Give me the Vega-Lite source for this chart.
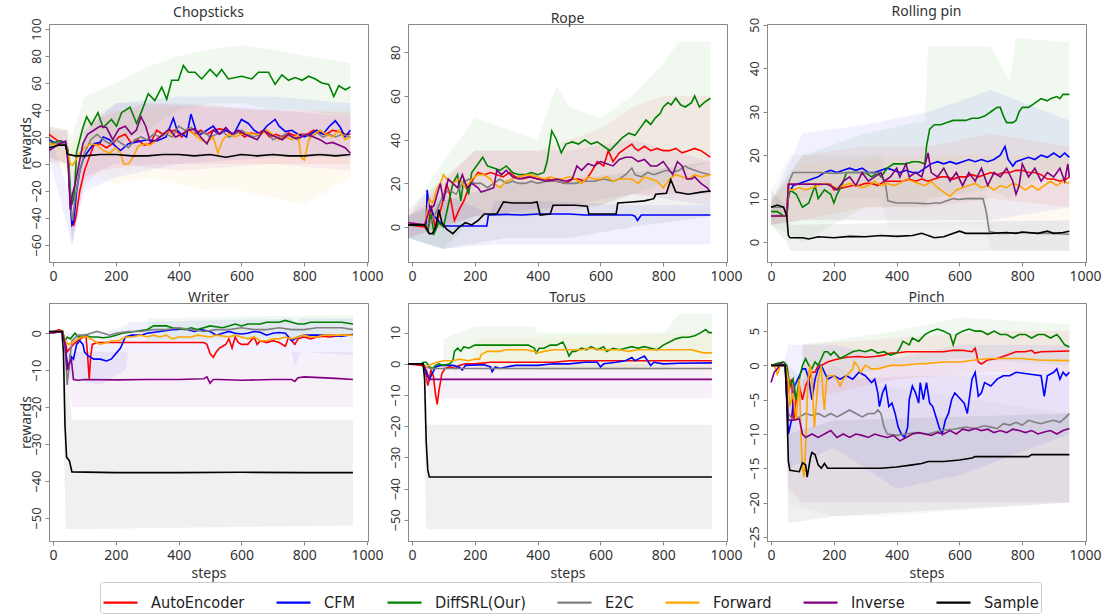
{
"$schema":"https://vega.github.io/schema/vega-lite/v6.json",
"padding":{"left":18,"top":4,"right":5,"bottom":0},
"config":{
 "font":"Noto Sans",
 "view":{"stroke":"#888","strokeWidth":1},
 "axis":{"grid":false,"domainColor":"#888","tickColor":"#888","tickSize":4,"labelColor":"#333","labelFontSize":14,"labelFont":"Noto Sans","titleFont":"Noto Sans","titleFontSize":14,"titleFontWeight":"normal","titleColor":"#333","labelPadding":2,"titlePadding":0,"labelOverlap":false,"labelFlush":false},
 "axisX":{"labelPadding":3,"titlePadding":4},
 "axisY":{"labelFontSize":13,"titlePadding":-3,"labelOverlap":false},
 "title":{"fontSize":14,"fontWeight":"normal","color":"#333","offset":-2,"font":"Noto Sans","anchor":"middle"},
 "legend":{"title":null,"symbolType":"stroke","symbolStrokeWidth":2.2,"symbolSize":1156,"labelFontSize":16.2,"labelFont":"DejaVu Sans Condensed","labelColor":"#222","columnPadding":27,"strokeColor":"#ccc","padding":2,"cornerRadius":3,"labelOffset":12,"labelLimit":300}
},
"datasets":{
"ch":[
{"s":"AutoEncoder","x":-13,"y":22},{"s":"AutoEncoder","x":10,"y":18},{"s":"AutoEncoder","x":25,"y":16},{"s":"AutoEncoder","x":40,"y":15},{"s":"AutoEncoder","x":48,"y":5},{"s":"AutoEncoder","x":55,"y":-30},{"s":"AutoEncoder","x":65,"y":-46},{"s":"AutoEncoder","x":72,"y":-40},{"s":"AutoEncoder","x":85,"y":-20},{"s":"AutoEncoder","x":100,"y":-5},{"s":"AutoEncoder","x":115,"y":5},{"s":"AutoEncoder","x":130,"y":14},{"s":"AutoEncoder","x":150,"y":15},{"s":"AutoEncoder","x":170,"y":12},{"s":"AutoEncoder","x":190,"y":15},{"s":"AutoEncoder","x":210,"y":20},{"s":"AutoEncoder","x":230,"y":22},{"s":"AutoEncoder","x":250,"y":15},{"s":"AutoEncoder","x":270,"y":18},{"s":"AutoEncoder","x":290,"y":14},{"s":"AutoEncoder","x":310,"y":15},{"s":"AutoEncoder","x":330,"y":25},{"s":"AutoEncoder","x":350,"y":22},{"s":"AutoEncoder","x":370,"y":24},{"s":"AutoEncoder","x":390,"y":25},{"s":"AutoEncoder","x":410,"y":20},{"s":"AutoEncoder","x":430,"y":26},{"s":"AutoEncoder","x":450,"y":22},{"s":"AutoEncoder","x":470,"y":25},{"s":"AutoEncoder","x":490,"y":22},{"s":"AutoEncoder","x":510,"y":25},{"s":"AutoEncoder","x":530,"y":26},{"s":"AutoEncoder","x":550,"y":25},{"s":"AutoEncoder","x":570,"y":22},{"s":"AutoEncoder","x":590,"y":24},{"s":"AutoEncoder","x":610,"y":20},{"s":"AutoEncoder","x":630,"y":23},{"s":"AutoEncoder","x":650,"y":22},{"s":"AutoEncoder","x":670,"y":25},{"s":"AutoEncoder","x":690,"y":20},{"s":"AutoEncoder","x":710,"y":22},{"s":"AutoEncoder","x":730,"y":20},{"s":"AutoEncoder","x":750,"y":23},{"s":"AutoEncoder","x":770,"y":21},{"s":"AutoEncoder","x":790,"y":22},{"s":"AutoEncoder","x":810,"y":22},{"s":"AutoEncoder","x":830,"y":25},{"s":"AutoEncoder","x":850,"y":23},{"s":"AutoEncoder","x":870,"y":22},{"s":"AutoEncoder","x":890,"y":25},{"s":"AutoEncoder","x":910,"y":24},{"s":"AutoEncoder","x":930,"y":22},{"s":"AutoEncoder","x":947,"y":22},
{"s":"CFM","x":-13,"y":18},{"s":"CFM","x":10,"y":15},{"s":"CFM","x":25,"y":17},{"s":"CFM","x":40,"y":15},{"s":"CFM","x":48,"y":5},{"s":"CFM","x":55,"y":-30},{"s":"CFM","x":60,"y":-45},{"s":"CFM","x":66,"y":-42},{"s":"CFM","x":75,"y":-20},{"s":"CFM","x":85,"y":-5},{"s":"CFM","x":95,"y":3},{"s":"CFM","x":107,"y":8},{"s":"CFM","x":130,"y":15},{"s":"CFM","x":150,"y":16},{"s":"CFM","x":160,"y":20},{"s":"CFM","x":180,"y":18},{"s":"CFM","x":195,"y":14},{"s":"CFM","x":215,"y":10},{"s":"CFM","x":240,"y":15},{"s":"CFM","x":260,"y":16},{"s":"CFM","x":280,"y":17},{"s":"CFM","x":300,"y":18},{"s":"CFM","x":330,"y":17},{"s":"CFM","x":360,"y":20},{"s":"CFM","x":383,"y":34},{"s":"CFM","x":395,"y":25},{"s":"CFM","x":410,"y":22},{"s":"CFM","x":425,"y":20},{"s":"CFM","x":439,"y":37},{"s":"CFM","x":455,"y":25},{"s":"CFM","x":470,"y":22},{"s":"CFM","x":490,"y":25},{"s":"CFM","x":510,"y":28},{"s":"CFM","x":530,"y":22},{"s":"CFM","x":550,"y":25},{"s":"CFM","x":575,"y":22},{"s":"CFM","x":600,"y":33},{"s":"CFM","x":622,"y":30},{"s":"CFM","x":640,"y":25},{"s":"CFM","x":660,"y":22},{"s":"CFM","x":680,"y":28},{"s":"CFM","x":707,"y":33},{"s":"CFM","x":720,"y":28},{"s":"CFM","x":740,"y":24},{"s":"CFM","x":760,"y":25},{"s":"CFM","x":780,"y":22},{"s":"CFM","x":800,"y":20},{"s":"CFM","x":820,"y":22},{"s":"CFM","x":840,"y":25},{"s":"CFM","x":860,"y":22},{"s":"CFM","x":880,"y":28},{"s":"CFM","x":899,"y":32},{"s":"CFM","x":915,"y":27},{"s":"CFM","x":930,"y":20},{"s":"CFM","x":947,"y":25},
{"s":"DiffSRL(Our)","x":-13,"y":15},{"s":"DiffSRL(Our)","x":20,"y":17},{"s":"DiffSRL(Our)","x":40,"y":15},{"s":"DiffSRL(Our)","x":48,"y":10},{"s":"DiffSRL(Our)","x":55,"y":-20},{"s":"DiffSRL(Our)","x":60,"y":-30},{"s":"DiffSRL(Our)","x":66,"y":-25},{"s":"DiffSRL(Our)","x":70,"y":-13},{"s":"DiffSRL(Our)","x":75,"y":9},{"s":"DiffSRL(Our)","x":95,"y":27},{"s":"DiffSRL(Our)","x":107,"y":35},{"s":"DiffSRL(Our)","x":122,"y":29},{"s":"DiffSRL(Our)","x":143,"y":38},{"s":"DiffSRL(Our)","x":159,"y":27},{"s":"DiffSRL(Our)","x":186,"y":33},{"s":"DiffSRL(Our)","x":202,"y":28},{"s":"DiffSRL(Our)","x":218,"y":38},{"s":"DiffSRL(Our)","x":245,"y":42},{"s":"DiffSRL(Our)","x":266,"y":30},{"s":"DiffSRL(Our)","x":282,"y":39},{"s":"DiffSRL(Our)","x":303,"y":52},{"s":"DiffSRL(Our)","x":324,"y":47},{"s":"DiffSRL(Our)","x":346,"y":57},{"s":"DiffSRL(Our)","x":362,"y":48},{"s":"DiffSRL(Our)","x":378,"y":62},{"s":"DiffSRL(Our)","x":399,"y":62},{"s":"DiffSRL(Our)","x":415,"y":73},{"s":"DiffSRL(Our)","x":431,"y":68},{"s":"DiffSRL(Our)","x":452,"y":68},{"s":"DiffSRL(Our)","x":473,"y":63},{"s":"DiffSRL(Our)","x":500,"y":70},{"s":"DiffSRL(Our)","x":521,"y":65},{"s":"DiffSRL(Our)","x":537,"y":70},{"s":"DiffSRL(Our)","x":558,"y":63},{"s":"DiffSRL(Our)","x":601,"y":65},{"s":"DiffSRL(Our)","x":633,"y":63},{"s":"DiffSRL(Our)","x":654,"y":68},{"s":"DiffSRL(Our)","x":686,"y":68},{"s":"DiffSRL(Our)","x":707,"y":59},{"s":"DiffSRL(Our)","x":729,"y":66},{"s":"DiffSRL(Our)","x":750,"y":62},{"s":"DiffSRL(Our)","x":771,"y":64},{"s":"DiffSRL(Our)","x":793,"y":62},{"s":"DiffSRL(Our)","x":814,"y":65},{"s":"DiffSRL(Our)","x":835,"y":63},{"s":"DiffSRL(Our)","x":856,"y":60},{"s":"DiffSRL(Our)","x":878,"y":59},{"s":"DiffSRL(Our)","x":894,"y":50},{"s":"DiffSRL(Our)","x":910,"y":58},{"s":"DiffSRL(Our)","x":931,"y":55},{"s":"DiffSRL(Our)","x":947,"y":57},
{"s":"E2C","x":-13,"y":14},{"s":"E2C","x":20,"y":16},{"s":"E2C","x":40,"y":15},{"s":"E2C","x":48,"y":5},{"s":"E2C","x":55,"y":-30},{"s":"E2C","x":62,"y":-42},{"s":"E2C","x":70,"y":-25},{"s":"E2C","x":85,"y":-5},{"s":"E2C","x":100,"y":8},{"s":"E2C","x":120,"y":18},{"s":"E2C","x":140,"y":22},{"s":"E2C","x":160,"y":18},{"s":"E2C","x":180,"y":15},{"s":"E2C","x":200,"y":18},{"s":"E2C","x":220,"y":15},{"s":"E2C","x":240,"y":12},{"s":"E2C","x":260,"y":18},{"s":"E2C","x":280,"y":20},{"s":"E2C","x":300,"y":18},{"s":"E2C","x":320,"y":22},{"s":"E2C","x":340,"y":20},{"s":"E2C","x":360,"y":22},{"s":"E2C","x":380,"y":20},{"s":"E2C","x":400,"y":28},{"s":"E2C","x":420,"y":25},{"s":"E2C","x":440,"y":27},{"s":"E2C","x":460,"y":22},{"s":"E2C","x":480,"y":24},{"s":"E2C","x":500,"y":20},{"s":"E2C","x":520,"y":22},{"s":"E2C","x":540,"y":24},{"s":"E2C","x":560,"y":20},{"s":"E2C","x":580,"y":22},{"s":"E2C","x":600,"y":25},{"s":"E2C","x":620,"y":22},{"s":"E2C","x":640,"y":20},{"s":"E2C","x":660,"y":22},{"s":"E2C","x":680,"y":25},{"s":"E2C","x":700,"y":18},{"s":"E2C","x":720,"y":20},{"s":"E2C","x":740,"y":22},{"s":"E2C","x":760,"y":20},{"s":"E2C","x":780,"y":18},{"s":"E2C","x":800,"y":22},{"s":"E2C","x":820,"y":20},{"s":"E2C","x":840,"y":23},{"s":"E2C","x":860,"y":20},{"s":"E2C","x":880,"y":22},{"s":"E2C","x":900,"y":20},{"s":"E2C","x":920,"y":22},{"s":"E2C","x":947,"y":20},
{"s":"Forward","x":-13,"y":15},{"s":"Forward","x":20,"y":14},{"s":"Forward","x":40,"y":14},{"s":"Forward","x":48,"y":8},{"s":"Forward","x":55,"y":0},{"s":"Forward","x":62,"y":-1},{"s":"Forward","x":70,"y":2},{"s":"Forward","x":85,"y":8},{"s":"Forward","x":100,"y":12},{"s":"Forward","x":120,"y":15},{"s":"Forward","x":140,"y":14},{"s":"Forward","x":160,"y":10},{"s":"Forward","x":180,"y":8},{"s":"Forward","x":200,"y":12},{"s":"Forward","x":215,"y":8},{"s":"Forward","x":225,"y":0},{"s":"Forward","x":240,"y":0},{"s":"Forward","x":255,"y":5},{"s":"Forward","x":270,"y":13},{"s":"Forward","x":290,"y":15},{"s":"Forward","x":310,"y":14},{"s":"Forward","x":330,"y":18},{"s":"Forward","x":350,"y":22},{"s":"Forward","x":370,"y":24},{"s":"Forward","x":390,"y":20},{"s":"Forward","x":410,"y":22},{"s":"Forward","x":430,"y":25},{"s":"Forward","x":450,"y":22},{"s":"Forward","x":470,"y":18},{"s":"Forward","x":490,"y":16},{"s":"Forward","x":510,"y":20},{"s":"Forward","x":525,"y":8},{"s":"Forward","x":540,"y":18},{"s":"Forward","x":560,"y":22},{"s":"Forward","x":580,"y":20},{"s":"Forward","x":600,"y":22},{"s":"Forward","x":620,"y":23},{"s":"Forward","x":640,"y":22},{"s":"Forward","x":660,"y":22},{"s":"Forward","x":680,"y":25},{"s":"Forward","x":700,"y":22},{"s":"Forward","x":720,"y":18},{"s":"Forward","x":740,"y":20},{"s":"Forward","x":760,"y":18},{"s":"Forward","x":780,"y":22},{"s":"Forward","x":790,"y":5},{"s":"Forward","x":800,"y":3},{"s":"Forward","x":815,"y":18},{"s":"Forward","x":830,"y":22},{"s":"Forward","x":850,"y":25},{"s":"Forward","x":870,"y":22},{"s":"Forward","x":890,"y":20},{"s":"Forward","x":910,"y":25},{"s":"Forward","x":930,"y":18},{"s":"Forward","x":947,"y":20},
{"s":"Inverse","x":-13,"y":10},{"s":"Inverse","x":20,"y":15},{"s":"Inverse","x":40,"y":17},{"s":"Inverse","x":48,"y":0},{"s":"Inverse","x":55,"y":-34},{"s":"Inverse","x":62,"y":-22},{"s":"Inverse","x":70,"y":-15},{"s":"Inverse","x":85,"y":3},{"s":"Inverse","x":95,"y":15},{"s":"Inverse","x":110,"y":22},{"s":"Inverse","x":130,"y":25},{"s":"Inverse","x":150,"y":28},{"s":"Inverse","x":170,"y":27},{"s":"Inverse","x":190,"y":18},{"s":"Inverse","x":210,"y":26},{"s":"Inverse","x":230,"y":28},{"s":"Inverse","x":250,"y":22},{"s":"Inverse","x":265,"y":25},{"s":"Inverse","x":280,"y":35},{"s":"Inverse","x":295,"y":28},{"s":"Inverse","x":310,"y":16},{"s":"Inverse","x":330,"y":18},{"s":"Inverse","x":350,"y":22},{"s":"Inverse","x":370,"y":26},{"s":"Inverse","x":390,"y":20},{"s":"Inverse","x":410,"y":22},{"s":"Inverse","x":430,"y":25},{"s":"Inverse","x":450,"y":26},{"s":"Inverse","x":470,"y":20},{"s":"Inverse","x":490,"y":15},{"s":"Inverse","x":510,"y":25},{"s":"Inverse","x":530,"y":22},{"s":"Inverse","x":550,"y":27},{"s":"Inverse","x":570,"y":22},{"s":"Inverse","x":590,"y":25},{"s":"Inverse","x":610,"y":22},{"s":"Inverse","x":630,"y":20},{"s":"Inverse","x":650,"y":18},{"s":"Inverse","x":670,"y":25},{"s":"Inverse","x":690,"y":22},{"s":"Inverse","x":710,"y":20},{"s":"Inverse","x":730,"y":18},{"s":"Inverse","x":750,"y":22},{"s":"Inverse","x":770,"y":19},{"s":"Inverse","x":790,"y":20},{"s":"Inverse","x":810,"y":22},{"s":"Inverse","x":830,"y":20},{"s":"Inverse","x":850,"y":18},{"s":"Inverse","x":870,"y":15},{"s":"Inverse","x":890,"y":16},{"s":"Inverse","x":910,"y":14},{"s":"Inverse","x":930,"y":12},{"s":"Inverse","x":947,"y":8},
{"s":"Sample","x":-13,"y":12},{"s":"Sample","x":20,"y":14},{"s":"Sample","x":40,"y":14},{"s":"Sample","x":45,"y":8},{"s":"Sample","x":50,"y":7},{"s":"Sample","x":70,"y":6},{"s":"Sample","x":100,"y":6},{"s":"Sample","x":150,"y":7},{"s":"Sample","x":200,"y":7},{"s":"Sample","x":250,"y":6},{"s":"Sample","x":300,"y":6},{"s":"Sample","x":350,"y":7},{"s":"Sample","x":400,"y":7},{"s":"Sample","x":450,"y":6},{"s":"Sample","x":500,"y":7},{"s":"Sample","x":550,"y":5},{"s":"Sample","x":600,"y":7},{"s":"Sample","x":650,"y":6},{"s":"Sample","x":700,"y":7},{"s":"Sample","x":750,"y":6},{"s":"Sample","x":800,"y":6},{"s":"Sample","x":850,"y":7},{"s":"Sample","x":900,"y":6},{"s":"Sample","x":947,"y":7}
],
"chB":[
{"s":"DiffSRL(Our)","x":-13,"lo":5,"hi":28},{"s":"DiffSRL(Our)","x":45,"lo":0,"hi":25},{"s":"DiffSRL(Our)","x":60,"lo":-55,"hi":20},{"s":"DiffSRL(Our)","x":80,"lo":-20,"hi":35},{"s":"DiffSRL(Our)","x":100,"lo":10,"hi":50},{"s":"DiffSRL(Our)","x":150,"lo":15,"hi":55},{"s":"DiffSRL(Our)","x":200,"lo":15,"hi":60},{"s":"DiffSRL(Our)","x":300,"lo":25,"hi":72},{"s":"DiffSRL(Our)","x":400,"lo":40,"hi":80},{"s":"DiffSRL(Our)","x":500,"lo":45,"hi":85},{"s":"DiffSRL(Our)","x":600,"lo":45,"hi":88},{"s":"DiffSRL(Our)","x":700,"lo":40,"hi":85},{"s":"DiffSRL(Our)","x":800,"lo":40,"hi":80},{"s":"DiffSRL(Our)","x":947,"lo":35,"hi":75},
{"s":"AutoEncoder","x":-13,"lo":5,"hi":28},{"s":"AutoEncoder","x":45,"lo":0,"hi":25},{"s":"AutoEncoder","x":60,"lo":-60,"hi":-25},{"s":"AutoEncoder","x":80,"lo":-35,"hi":0},{"s":"AutoEncoder","x":100,"lo":-15,"hi":20},{"s":"AutoEncoder","x":150,"lo":-5,"hi":35},{"s":"AutoEncoder","x":300,"lo":0,"hi":45},{"s":"AutoEncoder","x":500,"lo":0,"hi":42},{"s":"AutoEncoder","x":700,"lo":0,"hi":40},{"s":"AutoEncoder","x":947,"lo":0,"hi":38},
{"s":"Inverse","x":-13,"lo":2,"hi":25},{"s":"Inverse","x":45,"lo":0,"hi":25},{"s":"Inverse","x":60,"lo":-62,"hi":-10},{"s":"Inverse","x":100,"lo":-10,"hi":30},{"s":"Inverse","x":200,"lo":0,"hi":45},{"s":"Inverse","x":400,"lo":-5,"hi":45},{"s":"Inverse","x":700,"lo":0,"hi":40},{"s":"Inverse","x":947,"lo":-5,"hi":35},
{"s":"Forward","x":-13,"lo":2,"hi":25},{"s":"Forward","x":60,"lo":-10,"hi":15},{"s":"Forward","x":100,"lo":-5,"hi":30},{"s":"Forward","x":200,"lo":-15,"hi":40},{"s":"Forward","x":300,"lo":-10,"hi":40},{"s":"Forward","x":500,"lo":-20,"hi":45},{"s":"Forward","x":600,"lo":-20,"hi":40},{"s":"Forward","x":800,"lo":-30,"hi":40},{"s":"Forward","x":947,"lo":-10,"hi":40},
{"s":"CFM","x":-13,"lo":5,"hi":25},{"s":"CFM","x":60,"lo":-60,"hi":-30},{"s":"CFM","x":100,"lo":-20,"hi":25},{"s":"CFM","x":200,"lo":-10,"hi":45},{"s":"CFM","x":400,"lo":0,"hi":50},{"s":"CFM","x":700,"lo":5,"hi":50},{"s":"CFM","x":947,"lo":5,"hi":45}
],
"ro":[
{"s":"AutoEncoder","x":-13,"y":1},{"s":"AutoEncoder","x":40,"y":0},{"s":"AutoEncoder","x":50,"y":-2},{"s":"AutoEncoder","x":60,"y":10},{"s":"AutoEncoder","x":75,"y":-1},{"s":"AutoEncoder","x":85,"y":5},{"s":"AutoEncoder","x":95,"y":10},{"s":"AutoEncoder","x":110,"y":20},{"s":"AutoEncoder","x":120,"y":15},{"s":"AutoEncoder","x":135,"y":3},{"s":"AutoEncoder","x":150,"y":8},{"s":"AutoEncoder","x":165,"y":12},{"s":"AutoEncoder","x":180,"y":18},{"s":"AutoEncoder","x":195,"y":22},{"s":"AutoEncoder","x":210,"y":25},{"s":"AutoEncoder","x":230,"y":24},{"s":"AutoEncoder","x":250,"y":25},{"s":"AutoEncoder","x":270,"y":24},{"s":"AutoEncoder","x":290,"y":23},{"s":"AutoEncoder","x":310,"y":25},{"s":"AutoEncoder","x":330,"y":23},{"s":"AutoEncoder","x":350,"y":22},{"s":"AutoEncoder","x":380,"y":23},{"s":"AutoEncoder","x":400,"y":22},{"s":"AutoEncoder","x":430,"y":22},{"s":"AutoEncoder","x":460,"y":21},{"s":"AutoEncoder","x":490,"y":20},{"s":"AutoEncoder","x":510,"y":22},{"s":"AutoEncoder","x":530,"y":22},{"s":"AutoEncoder","x":550,"y":21},{"s":"AutoEncoder","x":570,"y":25},{"s":"AutoEncoder","x":590,"y":30},{"s":"AutoEncoder","x":610,"y":28},{"s":"AutoEncoder","x":625,"y":35},{"s":"AutoEncoder","x":640,"y":30},{"s":"AutoEncoder","x":660,"y":34},{"s":"AutoEncoder","x":680,"y":36},{"s":"AutoEncoder","x":700,"y":38},{"s":"AutoEncoder","x":710,"y":36},{"s":"AutoEncoder","x":720,"y":35},{"s":"AutoEncoder","x":740,"y":37},{"s":"AutoEncoder","x":760,"y":35},{"s":"AutoEncoder","x":780,"y":36},{"s":"AutoEncoder","x":800,"y":35},{"s":"AutoEncoder","x":820,"y":35},{"s":"AutoEncoder","x":840,"y":36},{"s":"AutoEncoder","x":860,"y":34},{"s":"AutoEncoder","x":880,"y":35},{"s":"AutoEncoder","x":900,"y":36},{"s":"AutoEncoder","x":920,"y":35},{"s":"AutoEncoder","x":950,"y":32},
{"s":"CFM","x":-13,"y":1},{"s":"CFM","x":45,"y":1},{"s":"CFM","x":48,"y":17},{"s":"CFM","x":54,"y":10},{"s":"CFM","x":70,"y":5},{"s":"CFM","x":90,"y":2},{"s":"CFM","x":100,"y":0.5},{"s":"CFM","x":150,"y":0.5},{"s":"CFM","x":200,"y":0.5},{"s":"CFM","x":238,"y":0.5},{"s":"CFM","x":243,"y":5.5},{"s":"CFM","x":300,"y":5.8},{"s":"CFM","x":350,"y":5.5},{"s":"CFM","x":400,"y":6},{"s":"CFM","x":500,"y":6},{"s":"CFM","x":550,"y":5.5},{"s":"CFM","x":600,"y":5.5},{"s":"CFM","x":650,"y":5.5},{"s":"CFM","x":700,"y":5.5},{"s":"CFM","x":710,"y":5},{"s":"CFM","x":718,"y":3},{"s":"CFM","x":730,"y":5.5},{"s":"CFM","x":800,"y":5.5},{"s":"CFM","x":900,"y":5.5},{"s":"CFM","x":950,"y":5.5},
{"s":"DiffSRL(Our)","x":-13,"y":1},{"s":"DiffSRL(Our)","x":40,"y":1},{"s":"DiffSRL(Our)","x":50,"y":-2},{"s":"DiffSRL(Our)","x":60,"y":6},{"s":"DiffSRL(Our)","x":70,"y":-3},{"s":"DiffSRL(Our)","x":85,"y":2},{"s":"DiffSRL(Our)","x":100,"y":0},{"s":"DiffSRL(Our)","x":115,"y":10},{"s":"DiffSRL(Our)","x":130,"y":20},{"s":"DiffSRL(Our)","x":145,"y":24},{"s":"DiffSRL(Our)","x":155,"y":12},{"s":"DiffSRL(Our)","x":165,"y":22},{"s":"DiffSRL(Our)","x":180,"y":15},{"s":"DiffSRL(Our)","x":190,"y":25},{"s":"DiffSRL(Our)","x":205,"y":28},{"s":"DiffSRL(Our)","x":225,"y":32},{"s":"DiffSRL(Our)","x":240,"y":28},{"s":"DiffSRL(Our)","x":260,"y":27},{"s":"DiffSRL(Our)","x":280,"y":26},{"s":"DiffSRL(Our)","x":300,"y":28},{"s":"DiffSRL(Our)","x":320,"y":25},{"s":"DiffSRL(Our)","x":340,"y":24},{"s":"DiffSRL(Our)","x":360,"y":24},{"s":"DiffSRL(Our)","x":380,"y":25},{"s":"DiffSRL(Our)","x":400,"y":24},{"s":"DiffSRL(Our)","x":420,"y":25},{"s":"DiffSRL(Our)","x":430,"y":30},{"s":"DiffSRL(Our)","x":445,"y":44},{"s":"DiffSRL(Our)","x":460,"y":40},{"s":"DiffSRL(Our)","x":475,"y":34},{"s":"DiffSRL(Our)","x":490,"y":38},{"s":"DiffSRL(Our)","x":510,"y":39},{"s":"DiffSRL(Our)","x":530,"y":38},{"s":"DiffSRL(Our)","x":550,"y":40},{"s":"DiffSRL(Our)","x":570,"y":38},{"s":"DiffSRL(Our)","x":590,"y":39},{"s":"DiffSRL(Our)","x":610,"y":37},{"s":"DiffSRL(Our)","x":630,"y":35},{"s":"DiffSRL(Our)","x":650,"y":38},{"s":"DiffSRL(Our)","x":670,"y":41},{"s":"DiffSRL(Our)","x":690,"y":43},{"s":"DiffSRL(Our)","x":710,"y":42},{"s":"DiffSRL(Our)","x":730,"y":46},{"s":"DiffSRL(Our)","x":745,"y":49},{"s":"DiffSRL(Our)","x":760,"y":47},{"s":"DiffSRL(Our)","x":775,"y":50},{"s":"DiffSRL(Our)","x":790,"y":52},{"s":"DiffSRL(Our)","x":800,"y":55},{"s":"DiffSRL(Our)","x":815,"y":57},{"s":"DiffSRL(Our)","x":825,"y":56},{"s":"DiffSRL(Our)","x":840,"y":59},{"s":"DiffSRL(Our)","x":855,"y":56},{"s":"DiffSRL(Our)","x":870,"y":55},{"s":"DiffSRL(Our)","x":890,"y":57},{"s":"DiffSRL(Our)","x":900,"y":60},{"s":"DiffSRL(Our)","x":915,"y":55},{"s":"DiffSRL(Our)","x":930,"y":57},{"s":"DiffSRL(Our)","x":950,"y":59},
{"s":"E2C","x":-13,"y":2},{"s":"E2C","x":40,"y":1},{"s":"E2C","x":60,"y":2},{"s":"E2C","x":80,"y":8},{"s":"E2C","x":100,"y":15},{"s":"E2C","x":120,"y":17},{"s":"E2C","x":140,"y":15},{"s":"E2C","x":160,"y":20},{"s":"E2C","x":180,"y":22},{"s":"E2C","x":200,"y":20},{"s":"E2C","x":220,"y":20},{"s":"E2C","x":240,"y":18},{"s":"E2C","x":260,"y":20},{"s":"E2C","x":280,"y":22},{"s":"E2C","x":300,"y":20},{"s":"E2C","x":320,"y":21},{"s":"E2C","x":340,"y":20},{"s":"E2C","x":360,"y":20},{"s":"E2C","x":380,"y":21},{"s":"E2C","x":400,"y":20},{"s":"E2C","x":430,"y":21},{"s":"E2C","x":460,"y":21},{"s":"E2C","x":490,"y":20},{"s":"E2C","x":520,"y":20},{"s":"E2C","x":550,"y":21},{"s":"E2C","x":580,"y":21},{"s":"E2C","x":610,"y":22},{"s":"E2C","x":640,"y":21},{"s":"E2C","x":660,"y":22},{"s":"E2C","x":680,"y":24},{"s":"E2C","x":700,"y":27},{"s":"E2C","x":710,"y":24},{"s":"E2C","x":730,"y":23},{"s":"E2C","x":750,"y":25},{"s":"E2C","x":770,"y":24},{"s":"E2C","x":790,"y":25},{"s":"E2C","x":810,"y":26},{"s":"E2C","x":830,"y":25},{"s":"E2C","x":850,"y":26},{"s":"E2C","x":870,"y":28},{"s":"E2C","x":880,"y":27},{"s":"E2C","x":900,"y":26},{"s":"E2C","x":920,"y":25},{"s":"E2C","x":950,"y":24},
{"s":"Forward","x":-13,"y":2},{"s":"Forward","x":40,"y":1},{"s":"Forward","x":55,"y":13},{"s":"Forward","x":65,"y":11},{"s":"Forward","x":80,"y":18},{"s":"Forward","x":90,"y":20},{"s":"Forward","x":100,"y":24},{"s":"Forward","x":110,"y":22},{"s":"Forward","x":130,"y":20},{"s":"Forward","x":150,"y":22},{"s":"Forward","x":170,"y":18},{"s":"Forward","x":190,"y":22},{"s":"Forward","x":210,"y":24},{"s":"Forward","x":230,"y":24},{"s":"Forward","x":250,"y":22},{"s":"Forward","x":260,"y":20},{"s":"Forward","x":280,"y":18},{"s":"Forward","x":300,"y":21},{"s":"Forward","x":320,"y":22},{"s":"Forward","x":340,"y":23},{"s":"Forward","x":370,"y":24},{"s":"Forward","x":400,"y":23},{"s":"Forward","x":420,"y":22},{"s":"Forward","x":440,"y":23},{"s":"Forward","x":460,"y":22},{"s":"Forward","x":480,"y":22},{"s":"Forward","x":500,"y":23},{"s":"Forward","x":520,"y":22},{"s":"Forward","x":540,"y":20},{"s":"Forward","x":560,"y":23},{"s":"Forward","x":580,"y":22},{"s":"Forward","x":600,"y":22},{"s":"Forward","x":620,"y":23},{"s":"Forward","x":640,"y":21},{"s":"Forward","x":660,"y":22},{"s":"Forward","x":680,"y":22},{"s":"Forward","x":700,"y":22},{"s":"Forward","x":720,"y":20},{"s":"Forward","x":740,"y":23},{"s":"Forward","x":760,"y":22},{"s":"Forward","x":780,"y":21},{"s":"Forward","x":800,"y":18},{"s":"Forward","x":820,"y":22},{"s":"Forward","x":840,"y":24},{"s":"Forward","x":860,"y":23},{"s":"Forward","x":880,"y":22},{"s":"Forward","x":900,"y":24},{"s":"Forward","x":920,"y":23},{"s":"Forward","x":950,"y":24},
{"s":"Inverse","x":-13,"y":2},{"s":"Inverse","x":40,"y":1},{"s":"Inverse","x":55,"y":8},{"s":"Inverse","x":70,"y":10},{"s":"Inverse","x":90,"y":20},{"s":"Inverse","x":100,"y":12},{"s":"Inverse","x":115,"y":22},{"s":"Inverse","x":130,"y":20},{"s":"Inverse","x":145,"y":18},{"s":"Inverse","x":160,"y":24},{"s":"Inverse","x":175,"y":18},{"s":"Inverse","x":190,"y":20},{"s":"Inverse","x":210,"y":18},{"s":"Inverse","x":220,"y":16},{"s":"Inverse","x":240,"y":17},{"s":"Inverse","x":260,"y":18},{"s":"Inverse","x":270,"y":26},{"s":"Inverse","x":285,"y":24},{"s":"Inverse","x":300,"y":26},{"s":"Inverse","x":320,"y":23},{"s":"Inverse","x":340,"y":22},{"s":"Inverse","x":370,"y":23},{"s":"Inverse","x":400,"y":22},{"s":"Inverse","x":430,"y":21},{"s":"Inverse","x":460,"y":22},{"s":"Inverse","x":490,"y":21},{"s":"Inverse","x":510,"y":22},{"s":"Inverse","x":525,"y":28},{"s":"Inverse","x":540,"y":26},{"s":"Inverse","x":560,"y":29},{"s":"Inverse","x":580,"y":28},{"s":"Inverse","x":600,"y":30},{"s":"Inverse","x":620,"y":29},{"s":"Inverse","x":640,"y":28},{"s":"Inverse","x":660,"y":31},{"s":"Inverse","x":680,"y":32},{"s":"Inverse","x":700,"y":32},{"s":"Inverse","x":720,"y":30},{"s":"Inverse","x":740,"y":31},{"s":"Inverse","x":760,"y":28},{"s":"Inverse","x":780,"y":28},{"s":"Inverse","x":800,"y":30},{"s":"Inverse","x":815,"y":27},{"s":"Inverse","x":830,"y":24},{"s":"Inverse","x":845,"y":30},{"s":"Inverse","x":860,"y":28},{"s":"Inverse","x":875,"y":22},{"s":"Inverse","x":890,"y":22},{"s":"Inverse","x":900,"y":23},{"s":"Inverse","x":920,"y":20},{"s":"Inverse","x":940,"y":18},{"s":"Inverse","x":950,"y":16},
{"s":"Sample","x":-13,"y":1},{"s":"Sample","x":40,"y":1},{"s":"Sample","x":55,"y":-3},{"s":"Sample","x":65,"y":-3},{"s":"Sample","x":75,"y":0},{"s":"Sample","x":85,"y":8},{"s":"Sample","x":95,"y":2},{"s":"Sample","x":110,"y":-1},{"s":"Sample","x":130,"y":-3},{"s":"Sample","x":150,"y":0},{"s":"Sample","x":170,"y":2},{"s":"Sample","x":190,"y":1},{"s":"Sample","x":210,"y":3},{"s":"Sample","x":230,"y":6},{"s":"Sample","x":270,"y":6},{"s":"Sample","x":291,"y":11.5},{"s":"Sample","x":320,"y":11},{"s":"Sample","x":350,"y":11},{"s":"Sample","x":380,"y":11},{"s":"Sample","x":398,"y":11.5},{"s":"Sample","x":408,"y":5.5},{"s":"Sample","x":440,"y":6},{"s":"Sample","x":449,"y":10},{"s":"Sample","x":480,"y":10},{"s":"Sample","x":520,"y":10},{"s":"Sample","x":558,"y":9.5},{"s":"Sample","x":563,"y":6},{"s":"Sample","x":600,"y":6},{"s":"Sample","x":650,"y":6},{"s":"Sample","x":655,"y":11},{"s":"Sample","x":700,"y":11.5},{"s":"Sample","x":740,"y":12},{"s":"Sample","x":770,"y":13},{"s":"Sample","x":776,"y":15},{"s":"Sample","x":810,"y":15.5},{"s":"Sample","x":824,"y":21.7},{"s":"Sample","x":840,"y":16},{"s":"Sample","x":880,"y":15},{"s":"Sample","x":920,"y":16},{"s":"Sample","x":950,"y":16.5}
],
"roB":[
{"s":"DiffSRL(Our)","x":-13,"lo":-5,"hi":5},{"s":"DiffSRL(Our)","x":100,"lo":-10,"hi":30},{"s":"DiffSRL(Our)","x":200,"lo":5,"hi":50},{"s":"DiffSRL(Our)","x":300,"lo":5,"hi":45},{"s":"DiffSRL(Our)","x":400,"lo":5,"hi":40},{"s":"DiffSRL(Our)","x":460,"lo":10,"hi":65},{"s":"DiffSRL(Our)","x":500,"lo":10,"hi":55},{"s":"DiffSRL(Our)","x":600,"lo":10,"hi":50},{"s":"DiffSRL(Our)","x":700,"lo":15,"hi":60},{"s":"DiffSRL(Our)","x":800,"lo":20,"hi":75},{"s":"DiffSRL(Our)","x":850,"lo":25,"hi":85},{"s":"DiffSRL(Our)","x":950,"lo":30,"hi":85},
{"s":"AutoEncoder","x":-13,"lo":-5,"hi":5},{"s":"AutoEncoder","x":200,"lo":5,"hi":35},{"s":"AutoEncoder","x":400,"lo":5,"hi":35},{"s":"AutoEncoder","x":600,"lo":10,"hi":45},{"s":"AutoEncoder","x":700,"lo":15,"hi":55},{"s":"AutoEncoder","x":800,"lo":15,"hi":60},{"s":"AutoEncoder","x":950,"lo":15,"hi":60},
{"s":"CFM","x":-13,"lo":-5,"hi":5},{"s":"CFM","x":100,"lo":-10,"hi":15},{"s":"CFM","x":250,"lo":-8,"hi":6},{"s":"CFM","x":260,"lo":-8,"hi":12},{"s":"CFM","x":400,"lo":-8,"hi":12},{"s":"CFM","x":700,"lo":-8,"hi":10},{"s":"CFM","x":950,"lo":-8,"hi":10},
{"s":"Sample","x":-13,"lo":-5,"hi":5},{"s":"Sample","x":100,"lo":-10,"hi":12},{"s":"Sample","x":300,"lo":-5,"hi":20},{"s":"Sample","x":500,"lo":-5,"hi":22},{"s":"Sample","x":700,"lo":0,"hi":25},{"s":"Sample","x":950,"lo":5,"hi":30},
{"s":"Inverse","x":-13,"lo":-5,"hi":8},{"s":"Inverse","x":200,"lo":5,"hi":35},{"s":"Inverse","x":500,"lo":10,"hi":35},{"s":"Inverse","x":700,"lo":15,"hi":40},{"s":"Inverse","x":950,"lo":10,"hi":30}
],
"rp":[
{"s":"AutoEncoder","x":0,"y":6},{"s":"AutoEncoder","x":40,"y":6},{"s":"AutoEncoder","x":50,"y":6},{"s":"AutoEncoder","x":55,"y":13.3},{"s":"AutoEncoder","x":190,"y":13.3},{"s":"AutoEncoder","x":200,"y":12},{"s":"AutoEncoder","x":230,"y":12.5},{"s":"AutoEncoder","x":260,"y":13},{"s":"AutoEncoder","x":280,"y":13},{"s":"AutoEncoder","x":300,"y":13.5},{"s":"AutoEncoder","x":320,"y":13.5},{"s":"AutoEncoder","x":340,"y":13},{"s":"AutoEncoder","x":360,"y":14},{"s":"AutoEncoder","x":380,"y":14},{"s":"AutoEncoder","x":400,"y":14},{"s":"AutoEncoder","x":420,"y":14},{"s":"AutoEncoder","x":440,"y":14.5},{"s":"AutoEncoder","x":460,"y":14},{"s":"AutoEncoder","x":480,"y":14.5},{"s":"AutoEncoder","x":500,"y":14},{"s":"AutoEncoder","x":520,"y":14.5},{"s":"AutoEncoder","x":540,"y":15},{"s":"AutoEncoder","x":560,"y":15},{"s":"AutoEncoder","x":580,"y":14.5},{"s":"AutoEncoder","x":600,"y":15},{"s":"AutoEncoder","x":620,"y":15},{"s":"AutoEncoder","x":640,"y":15.5},{"s":"AutoEncoder","x":660,"y":15},{"s":"AutoEncoder","x":680,"y":15.5},{"s":"AutoEncoder","x":700,"y":16},{"s":"AutoEncoder","x":720,"y":15.5},{"s":"AutoEncoder","x":740,"y":16},{"s":"AutoEncoder","x":760,"y":16},{"s":"AutoEncoder","x":780,"y":16.5},{"s":"AutoEncoder","x":800,"y":16.5},{"s":"AutoEncoder","x":820,"y":16},{"s":"AutoEncoder","x":840,"y":16},{"s":"AutoEncoder","x":860,"y":15.5},{"s":"AutoEncoder","x":880,"y":14.5},{"s":"AutoEncoder","x":900,"y":14.5},{"s":"AutoEncoder","x":920,"y":14},{"s":"AutoEncoder","x":940,"y":14.5},{"s":"AutoEncoder","x":950,"y":15},
{"s":"CFM","x":0,"y":6},{"s":"CFM","x":50,"y":6},{"s":"CFM","x":55,"y":11},{"s":"CFM","x":70,"y":13},{"s":"CFM","x":90,"y":13.5},{"s":"CFM","x":110,"y":14},{"s":"CFM","x":130,"y":14.5},{"s":"CFM","x":150,"y":15},{"s":"CFM","x":170,"y":16},{"s":"CFM","x":190,"y":16.5},{"s":"CFM","x":210,"y":16},{"s":"CFM","x":230,"y":16.5},{"s":"CFM","x":250,"y":17},{"s":"CFM","x":270,"y":16.5},{"s":"CFM","x":290,"y":17},{"s":"CFM","x":310,"y":16},{"s":"CFM","x":330,"y":16},{"s":"CFM","x":350,"y":16.5},{"s":"CFM","x":370,"y":17},{"s":"CFM","x":390,"y":16.5},{"s":"CFM","x":410,"y":16},{"s":"CFM","x":430,"y":16.5},{"s":"CFM","x":450,"y":16},{"s":"CFM","x":470,"y":16},{"s":"CFM","x":490,"y":17},{"s":"CFM","x":510,"y":18},{"s":"CFM","x":530,"y":18.5},{"s":"CFM","x":550,"y":18},{"s":"CFM","x":570,"y":18.5},{"s":"CFM","x":590,"y":18},{"s":"CFM","x":610,"y":18.5},{"s":"CFM","x":630,"y":19},{"s":"CFM","x":650,"y":18.5},{"s":"CFM","x":670,"y":19},{"s":"CFM","x":690,"y":18.5},{"s":"CFM","x":710,"y":19},{"s":"CFM","x":730,"y":20},{"s":"CFM","x":745,"y":22},{"s":"CFM","x":755,"y":19},{"s":"CFM","x":770,"y":17.5},{"s":"CFM","x":780,"y":18.5},{"s":"CFM","x":800,"y":19},{"s":"CFM","x":820,"y":19.5},{"s":"CFM","x":840,"y":19},{"s":"CFM","x":860,"y":20},{"s":"CFM","x":880,"y":19.5},{"s":"CFM","x":900,"y":20.5},{"s":"CFM","x":920,"y":19.5},{"s":"CFM","x":935,"y":20.5},{"s":"CFM","x":950,"y":19.5},
{"s":"DiffSRL(Our)","x":0,"y":7},{"s":"DiffSRL(Our)","x":20,"y":7},{"s":"DiffSRL(Our)","x":40,"y":6},{"s":"DiffSRL(Our)","x":50,"y":6},{"s":"DiffSRL(Our)","x":55,"y":10},{"s":"DiffSRL(Our)","x":60,"y":12},{"s":"DiffSRL(Our)","x":80,"y":11},{"s":"DiffSRL(Our)","x":100,"y":8},{"s":"DiffSRL(Our)","x":120,"y":9},{"s":"DiffSRL(Our)","x":140,"y":13},{"s":"DiffSRL(Our)","x":150,"y":10},{"s":"DiffSRL(Our)","x":170,"y":12},{"s":"DiffSRL(Our)","x":190,"y":11},{"s":"DiffSRL(Our)","x":200,"y":9},{"s":"DiffSRL(Our)","x":210,"y":11},{"s":"DiffSRL(Our)","x":225,"y":13},{"s":"DiffSRL(Our)","x":240,"y":16},{"s":"DiffSRL(Our)","x":260,"y":16},{"s":"DiffSRL(Our)","x":280,"y":16},{"s":"DiffSRL(Our)","x":300,"y":16},{"s":"DiffSRL(Our)","x":320,"y":15},{"s":"DiffSRL(Our)","x":340,"y":16},{"s":"DiffSRL(Our)","x":350,"y":15},{"s":"DiffSRL(Our)","x":360,"y":16},{"s":"DiffSRL(Our)","x":370,"y":17},{"s":"DiffSRL(Our)","x":390,"y":18},{"s":"DiffSRL(Our)","x":410,"y":18},{"s":"DiffSRL(Our)","x":430,"y":18},{"s":"DiffSRL(Our)","x":450,"y":18.5},{"s":"DiffSRL(Our)","x":470,"y":18.5},{"s":"DiffSRL(Our)","x":490,"y":18},{"s":"DiffSRL(Our)","x":495,"y":22},{"s":"DiffSRL(Our)","x":505,"y":26},{"s":"DiffSRL(Our)","x":520,"y":27},{"s":"DiffSRL(Our)","x":540,"y":27},{"s":"DiffSRL(Our)","x":560,"y":27.5},{"s":"DiffSRL(Our)","x":580,"y":28},{"s":"DiffSRL(Our)","x":600,"y":28},{"s":"DiffSRL(Our)","x":620,"y":28},{"s":"DiffSRL(Our)","x":640,"y":28.5},{"s":"DiffSRL(Our)","x":660,"y":28.5},{"s":"DiffSRL(Our)","x":680,"y":29},{"s":"DiffSRL(Our)","x":700,"y":30},{"s":"DiffSRL(Our)","x":720,"y":31},{"s":"DiffSRL(Our)","x":730,"y":31},{"s":"DiffSRL(Our)","x":740,"y":29},{"s":"DiffSRL(Our)","x":750,"y":27.5},{"s":"DiffSRL(Our)","x":770,"y":27.5},{"s":"DiffSRL(Our)","x":780,"y":28},{"s":"DiffSRL(Our)","x":790,"y":30},{"s":"DiffSRL(Our)","x":800,"y":31},{"s":"DiffSRL(Our)","x":820,"y":31},{"s":"DiffSRL(Our)","x":840,"y":32},{"s":"DiffSRL(Our)","x":860,"y":33},{"s":"DiffSRL(Our)","x":880,"y":32.5},{"s":"DiffSRL(Our)","x":890,"y":33},{"s":"DiffSRL(Our)","x":910,"y":33.5},{"s":"DiffSRL(Our)","x":920,"y":33},{"s":"DiffSRL(Our)","x":930,"y":34},{"s":"DiffSRL(Our)","x":950,"y":34},
{"s":"E2C","x":0,"y":8},{"s":"E2C","x":40,"y":8},{"s":"E2C","x":50,"y":6},{"s":"E2C","x":58,"y":14},{"s":"E2C","x":70,"y":16},{"s":"E2C","x":100,"y":16},{"s":"E2C","x":150,"y":16},{"s":"E2C","x":200,"y":15.8},{"s":"E2C","x":250,"y":16},{"s":"E2C","x":300,"y":16},{"s":"E2C","x":350,"y":15.8},{"s":"E2C","x":365,"y":13},{"s":"E2C","x":372,"y":9.5},{"s":"E2C","x":400,"y":9},{"s":"E2C","x":450,"y":9},{"s":"E2C","x":500,"y":8.8},{"s":"E2C","x":520,"y":9},{"s":"E2C","x":540,"y":9},{"s":"E2C","x":560,"y":9.5},{"s":"E2C","x":580,"y":10},{"s":"E2C","x":600,"y":9.8},{"s":"E2C","x":620,"y":10},{"s":"E2C","x":650,"y":10},{"s":"E2C","x":675,"y":10},{"s":"E2C","x":685,"y":7},{"s":"E2C","x":695,"y":2.5},{"s":"E2C","x":720,"y":2},{"s":"E2C","x":750,"y":2},{"s":"E2C","x":800,"y":2.2},{"s":"E2C","x":850,"y":2},{"s":"E2C","x":900,"y":2},{"s":"E2C","x":950,"y":1.8},
{"s":"Forward","x":0,"y":6},{"s":"Forward","x":40,"y":6},{"s":"Forward","x":50,"y":6},{"s":"Forward","x":55,"y":12},{"s":"Forward","x":70,"y":12},{"s":"Forward","x":90,"y":12.5},{"s":"Forward","x":110,"y":12},{"s":"Forward","x":130,"y":12.5},{"s":"Forward","x":150,"y":13},{"s":"Forward","x":170,"y":13.5},{"s":"Forward","x":190,"y":13},{"s":"Forward","x":210,"y":12.5},{"s":"Forward","x":230,"y":13},{"s":"Forward","x":250,"y":13.5},{"s":"Forward","x":270,"y":13},{"s":"Forward","x":290,"y":12.5},{"s":"Forward","x":310,"y":13},{"s":"Forward","x":330,"y":14},{"s":"Forward","x":350,"y":13},{"s":"Forward","x":370,"y":13.5},{"s":"Forward","x":390,"y":13},{"s":"Forward","x":410,"y":13.5},{"s":"Forward","x":430,"y":14.5},{"s":"Forward","x":450,"y":14},{"s":"Forward","x":470,"y":13.5},{"s":"Forward","x":490,"y":13},{"s":"Forward","x":510,"y":14},{"s":"Forward","x":530,"y":12.5},{"s":"Forward","x":550,"y":11.5},{"s":"Forward","x":570,"y":10.5},{"s":"Forward","x":590,"y":12},{"s":"Forward","x":610,"y":12.5},{"s":"Forward","x":630,"y":13},{"s":"Forward","x":650,"y":13.5},{"s":"Forward","x":670,"y":12.5},{"s":"Forward","x":690,"y":13},{"s":"Forward","x":710,"y":12},{"s":"Forward","x":730,"y":13},{"s":"Forward","x":750,"y":12.5},{"s":"Forward","x":770,"y":13.5},{"s":"Forward","x":790,"y":13},{"s":"Forward","x":810,"y":12},{"s":"Forward","x":830,"y":13},{"s":"Forward","x":850,"y":12},{"s":"Forward","x":870,"y":13},{"s":"Forward","x":890,"y":14},{"s":"Forward","x":910,"y":13},{"s":"Forward","x":930,"y":14},{"s":"Forward","x":950,"y":13.5},
{"s":"Inverse","x":0,"y":6},{"s":"Inverse","x":40,"y":6},{"s":"Inverse","x":50,"y":6},{"s":"Inverse","x":55,"y":13.3},{"s":"Inverse","x":180,"y":13.3},{"s":"Inverse","x":200,"y":12.5},{"s":"Inverse","x":210,"y":12},{"s":"Inverse","x":230,"y":14},{"s":"Inverse","x":250,"y":15},{"s":"Inverse","x":270,"y":13},{"s":"Inverse","x":290,"y":16},{"s":"Inverse","x":310,"y":14},{"s":"Inverse","x":330,"y":15},{"s":"Inverse","x":350,"y":16},{"s":"Inverse","x":360,"y":14},{"s":"Inverse","x":380,"y":15},{"s":"Inverse","x":400,"y":17},{"s":"Inverse","x":410,"y":15},{"s":"Inverse","x":430,"y":18},{"s":"Inverse","x":440,"y":15},{"s":"Inverse","x":460,"y":16},{"s":"Inverse","x":480,"y":15},{"s":"Inverse","x":500,"y":20.5},{"s":"Inverse","x":510,"y":16},{"s":"Inverse","x":530,"y":15},{"s":"Inverse","x":550,"y":17},{"s":"Inverse","x":570,"y":14},{"s":"Inverse","x":590,"y":16},{"s":"Inverse","x":610,"y":13},{"s":"Inverse","x":630,"y":16},{"s":"Inverse","x":650,"y":14},{"s":"Inverse","x":670,"y":17},{"s":"Inverse","x":690,"y":13},{"s":"Inverse","x":710,"y":16},{"s":"Inverse","x":730,"y":15},{"s":"Inverse","x":750,"y":17},{"s":"Inverse","x":770,"y":14},{"s":"Inverse","x":780,"y":11},{"s":"Inverse","x":790,"y":13},{"s":"Inverse","x":800,"y":18},{"s":"Inverse","x":820,"y":15},{"s":"Inverse","x":840,"y":17},{"s":"Inverse","x":860,"y":14},{"s":"Inverse","x":880,"y":16},{"s":"Inverse","x":900,"y":15},{"s":"Inverse","x":920,"y":17},{"s":"Inverse","x":935,"y":14},{"s":"Inverse","x":945,"y":18},{"s":"Inverse","x":950,"y":15},
{"s":"Sample","x":0,"y":8},{"s":"Sample","x":20,"y":8.5},{"s":"Sample","x":40,"y":8},{"s":"Sample","x":50,"y":6},{"s":"Sample","x":55,"y":1.5},{"s":"Sample","x":60,"y":1},{"s":"Sample","x":100,"y":1},{"s":"Sample","x":120,"y":0.7},{"s":"Sample","x":150,"y":1.2},{"s":"Sample","x":200,"y":1},{"s":"Sample","x":250,"y":1.3},{"s":"Sample","x":300,"y":1.2},{"s":"Sample","x":350,"y":1.5},{"s":"Sample","x":400,"y":1.3},{"s":"Sample","x":450,"y":1.5},{"s":"Sample","x":480,"y":2},{"s":"Sample","x":500,"y":1.5},{"s":"Sample","x":520,"y":1},{"s":"Sample","x":550,"y":1.2},{"s":"Sample","x":600,"y":2.5},{"s":"Sample","x":620,"y":2},{"s":"Sample","x":650,"y":2},{"s":"Sample","x":700,"y":2},{"s":"Sample","x":750,"y":2.2},{"s":"Sample","x":780,"y":2},{"s":"Sample","x":800,"y":2.3},{"s":"Sample","x":850,"y":2},{"s":"Sample","x":880,"y":2.5},{"s":"Sample","x":900,"y":2},{"s":"Sample","x":930,"y":2.2},{"s":"Sample","x":950,"y":2.5}
],
"rpB":[
{"s":"DiffSRL(Our)","x":0,"lo":4,"hi":10},{"s":"DiffSRL(Our)","x":100,"lo":0,"hi":20},{"s":"DiffSRL(Our)","x":300,"lo":8,"hi":25},{"s":"DiffSRL(Our)","x":490,"lo":8,"hi":28},{"s":"DiffSRL(Our)","x":500,"lo":10,"hi":45},{"s":"DiffSRL(Our)","x":700,"lo":12,"hi":45},{"s":"DiffSRL(Our)","x":760,"lo":10,"hi":37},{"s":"DiffSRL(Our)","x":780,"lo":12,"hi":47},{"s":"DiffSRL(Our)","x":950,"lo":18,"hi":46},
{"s":"CFM","x":0,"lo":4,"hi":9},{"s":"CFM","x":100,"lo":5,"hi":25},{"s":"CFM","x":300,"lo":5,"hi":27},{"s":"CFM","x":500,"lo":5,"hi":30},{"s":"CFM","x":700,"lo":5,"hi":35},{"s":"CFM","x":950,"lo":8,"hi":28},
{"s":"AutoEncoder","x":0,"lo":4,"hi":9},{"s":"AutoEncoder","x":100,"lo":5,"hi":20},{"s":"AutoEncoder","x":300,"lo":8,"hi":22},{"s":"AutoEncoder","x":500,"lo":8,"hi":22},{"s":"AutoEncoder","x":700,"lo":10,"hi":25},{"s":"AutoEncoder","x":950,"lo":8,"hi":22},
{"s":"E2C","x":0,"lo":4,"hi":12},{"s":"E2C","x":60,"lo":10,"hi":20},{"s":"E2C","x":350,"lo":10,"hi":20},{"s":"E2C","x":370,"lo":4,"hi":15},{"s":"E2C","x":680,"lo":4,"hi":15},{"s":"E2C","x":700,"lo":-2,"hi":5},{"s":"E2C","x":950,"lo":-2,"hi":5},
{"s":"Sample","x":0,"lo":4,"hi":12},{"s":"Sample","x":50,"lo":0,"hi":8},{"s":"Sample","x":60,"lo":-2,"hi":4},{"s":"Sample","x":950,"lo":-2,"hi":5},
{"s":"Forward","x":0,"lo":4,"hi":9},{"s":"Forward","x":100,"lo":5,"hi":18},{"s":"Forward","x":500,"lo":5,"hi":20},{"s":"Forward","x":950,"lo":5,"hi":20}
],
"wr":[
{"s":"AutoEncoder","x":-13,"y":0},{"s":"AutoEncoder","x":20,"y":1},{"s":"AutoEncoder","x":30,"y":0.5},{"s":"AutoEncoder","x":38,"y":-2},{"s":"AutoEncoder","x":45,"y":-5},{"s":"AutoEncoder","x":55,"y":-4},{"s":"AutoEncoder","x":65,"y":-3},{"s":"AutoEncoder","x":80,"y":-2},{"s":"AutoEncoder","x":95,"y":-1},{"s":"AutoEncoder","x":105,"y":-1},{"s":"AutoEncoder","x":110,"y":-6},{"s":"AutoEncoder","x":115,"y":-12.5},{"s":"AutoEncoder","x":120,"y":-6},{"s":"AutoEncoder","x":125,"y":-3},{"s":"AutoEncoder","x":140,"y":-2.5},{"s":"AutoEncoder","x":200,"y":-2.5},{"s":"AutoEncoder","x":300,"y":-2.5},{"s":"AutoEncoder","x":400,"y":-2.5},{"s":"AutoEncoder","x":480,"y":-2.5},{"s":"AutoEncoder","x":490,"y":-3},{"s":"AutoEncoder","x":500,"y":-5.5},{"s":"AutoEncoder","x":510,"y":-6.5},{"s":"AutoEncoder","x":520,"y":-5},{"s":"AutoEncoder","x":530,"y":-4},{"s":"AutoEncoder","x":540,"y":-3.5},{"s":"AutoEncoder","x":550,"y":-3},{"s":"AutoEncoder","x":560,"y":-1.5},{"s":"AutoEncoder","x":570,"y":-4},{"s":"AutoEncoder","x":580,"y":-1},{"s":"AutoEncoder","x":590,"y":-2.5},{"s":"AutoEncoder","x":600,"y":-3},{"s":"AutoEncoder","x":620,"y":-3},{"s":"AutoEncoder","x":640,"y":-1},{"s":"AutoEncoder","x":650,"y":-3},{"s":"AutoEncoder","x":660,"y":-2},{"s":"AutoEncoder","x":680,"y":-2.5},{"s":"AutoEncoder","x":700,"y":-2},{"s":"AutoEncoder","x":720,"y":-2.5},{"s":"AutoEncoder","x":740,"y":-3.5},{"s":"AutoEncoder","x":750,"y":-1},{"s":"AutoEncoder","x":760,"y":-2},{"s":"AutoEncoder","x":770,"y":-3},{"s":"AutoEncoder","x":780,"y":-1.5},{"s":"AutoEncoder","x":800,"y":-1},{"s":"AutoEncoder","x":820,"y":-1.5},{"s":"AutoEncoder","x":840,"y":-1},{"s":"AutoEncoder","x":860,"y":-0.8},{"s":"AutoEncoder","x":880,"y":-1},{"s":"AutoEncoder","x":900,"y":-0.8},{"s":"AutoEncoder","x":920,"y":-0.5},{"s":"AutoEncoder","x":955,"y":-0.5},
{"s":"CFM","x":-13,"y":0},{"s":"CFM","x":30,"y":0.5},{"s":"CFM","x":38,"y":-3},{"s":"CFM","x":45,"y":-8},{"s":"CFM","x":50,"y":-10},{"s":"CFM","x":55,"y":-6},{"s":"CFM","x":65,"y":-7},{"s":"CFM","x":75,"y":-3},{"s":"CFM","x":85,"y":-2},{"s":"CFM","x":95,"y":-3},{"s":"CFM","x":100,"y":-5},{"s":"CFM","x":110,"y":-6},{"s":"CFM","x":130,"y":-7},{"s":"CFM","x":150,"y":-7},{"s":"CFM","x":170,"y":-7.5},{"s":"CFM","x":185,"y":-7},{"s":"CFM","x":200,"y":-5.5},{"s":"CFM","x":215,"y":-4},{"s":"CFM","x":230,"y":-1},{"s":"CFM","x":250,"y":-0.5},{"s":"CFM","x":280,"y":-0.5},{"s":"CFM","x":300,"y":0},{"s":"CFM","x":340,"y":0.5},{"s":"CFM","x":380,"y":1},{"s":"CFM","x":420,"y":1.2},{"s":"CFM","x":450,"y":0.5},{"s":"CFM","x":470,"y":1},{"s":"CFM","x":500,"y":0.5},{"s":"CFM","x":520,"y":-0.5},{"s":"CFM","x":540,"y":0},{"s":"CFM","x":560,"y":0.5},{"s":"CFM","x":580,"y":0},{"s":"CFM","x":600,"y":-0.2},{"s":"CFM","x":620,"y":0},{"s":"CFM","x":640,"y":0.5},{"s":"CFM","x":660,"y":0.3},{"s":"CFM","x":680,"y":-0.5},{"s":"CFM","x":700,"y":0},{"s":"CFM","x":720,"y":0.2},{"s":"CFM","x":740,"y":0},{"s":"CFM","x":760,"y":-2},{"s":"CFM","x":780,"y":-1},{"s":"CFM","x":800,"y":-0.5},{"s":"CFM","x":840,"y":-0.5},{"s":"CFM","x":880,"y":-0.5},{"s":"CFM","x":920,"y":-0.8},{"s":"CFM","x":955,"y":-0.3},
{"s":"DiffSRL(Our)","x":-13,"y":0},{"s":"DiffSRL(Our)","x":30,"y":0.5},{"s":"DiffSRL(Our)","x":38,"y":-2},{"s":"DiffSRL(Our)","x":45,"y":-1},{"s":"DiffSRL(Our)","x":55,"y":-1.5},{"s":"DiffSRL(Our)","x":70,"y":0},{"s":"DiffSRL(Our)","x":80,"y":-1},{"s":"DiffSRL(Our)","x":100,"y":-0.5},{"s":"DiffSRL(Our)","x":120,"y":-1},{"s":"DiffSRL(Our)","x":140,"y":-1},{"s":"DiffSRL(Our)","x":160,"y":-1.2},{"s":"DiffSRL(Our)","x":180,"y":-1},{"s":"DiffSRL(Our)","x":200,"y":-0.5},{"s":"DiffSRL(Our)","x":220,"y":0},{"s":"DiffSRL(Our)","x":260,"y":0.5},{"s":"DiffSRL(Our)","x":300,"y":1},{"s":"DiffSRL(Our)","x":320,"y":2},{"s":"DiffSRL(Our)","x":360,"y":2},{"s":"DiffSRL(Our)","x":380,"y":1.5},{"s":"DiffSRL(Our)","x":420,"y":1},{"s":"DiffSRL(Our)","x":440,"y":1.5},{"s":"DiffSRL(Our)","x":460,"y":1},{"s":"DiffSRL(Our)","x":480,"y":1.5},{"s":"DiffSRL(Our)","x":500,"y":2},{"s":"DiffSRL(Our)","x":540,"y":1.5},{"s":"DiffSRL(Our)","x":560,"y":2},{"s":"DiffSRL(Our)","x":580,"y":2.5},{"s":"DiffSRL(Our)","x":600,"y":2},{"s":"DiffSRL(Our)","x":620,"y":2.5},{"s":"DiffSRL(Our)","x":660,"y":2.5},{"s":"DiffSRL(Our)","x":680,"y":3},{"s":"DiffSRL(Our)","x":720,"y":3},{"s":"DiffSRL(Our)","x":740,"y":3.5},{"s":"DiffSRL(Our)","x":760,"y":3},{"s":"DiffSRL(Our)","x":780,"y":2.5},{"s":"DiffSRL(Our)","x":800,"y":2.5},{"s":"DiffSRL(Our)","x":820,"y":3},{"s":"DiffSRL(Our)","x":920,"y":3},{"s":"DiffSRL(Our)","x":955,"y":2.5},
{"s":"E2C","x":-13,"y":0.5},{"s":"E2C","x":30,"y":0.5},{"s":"E2C","x":38,"y":-3},{"s":"E2C","x":45,"y":-14},{"s":"E2C","x":52,"y":-8},{"s":"E2C","x":60,"y":-2},{"s":"E2C","x":80,"y":-0.5},{"s":"E2C","x":100,"y":-0.5},{"s":"E2C","x":120,"y":0},{"s":"E2C","x":140,"y":0.5},{"s":"E2C","x":160,"y":0},{"s":"E2C","x":180,"y":-0.5},{"s":"E2C","x":200,"y":0},{"s":"E2C","x":240,"y":0.5},{"s":"E2C","x":280,"y":0.5},{"s":"E2C","x":320,"y":1},{"s":"E2C","x":360,"y":1},{"s":"E2C","x":400,"y":1.5},{"s":"E2C","x":440,"y":1},{"s":"E2C","x":480,"y":0.5},{"s":"E2C","x":520,"y":1},{"s":"E2C","x":560,"y":1},{"s":"E2C","x":600,"y":1.5},{"s":"E2C","x":640,"y":1},{"s":"E2C","x":680,"y":1},{"s":"E2C","x":720,"y":1.5},{"s":"E2C","x":760,"y":1},{"s":"E2C","x":800,"y":1},{"s":"E2C","x":840,"y":1.5},{"s":"E2C","x":920,"y":1.5},{"s":"E2C","x":955,"y":1},
{"s":"Forward","x":-13,"y":0},{"s":"Forward","x":30,"y":0.5},{"s":"Forward","x":38,"y":-2},{"s":"Forward","x":50,"y":-3},{"s":"Forward","x":70,"y":-2},{"s":"Forward","x":90,"y":-1},{"s":"Forward","x":110,"y":-1},{"s":"Forward","x":130,"y":-2},{"s":"Forward","x":150,"y":-3},{"s":"Forward","x":170,"y":-2.5},{"s":"Forward","x":190,"y":-2},{"s":"Forward","x":210,"y":-2},{"s":"Forward","x":230,"y":-1},{"s":"Forward","x":250,"y":-1},{"s":"Forward","x":280,"y":-0.5},{"s":"Forward","x":300,"y":-1},{"s":"Forward","x":320,"y":-0.5},{"s":"Forward","x":340,"y":-1},{"s":"Forward","x":360,"y":-0.5},{"s":"Forward","x":380,"y":-1.5},{"s":"Forward","x":400,"y":-1},{"s":"Forward","x":440,"y":-1},{"s":"Forward","x":460,"y":-0.5},{"s":"Forward","x":500,"y":-1},{"s":"Forward","x":520,"y":-0.5},{"s":"Forward","x":560,"y":-1},{"s":"Forward","x":580,"y":-0.5},{"s":"Forward","x":600,"y":-1},{"s":"Forward","x":620,"y":-1.5},{"s":"Forward","x":640,"y":-1},{"s":"Forward","x":660,"y":-2},{"s":"Forward","x":680,"y":-2},{"s":"Forward","x":700,"y":-1.5},{"s":"Forward","x":720,"y":-1.5},{"s":"Forward","x":740,"y":-1},{"s":"Forward","x":760,"y":-1.5},{"s":"Forward","x":780,"y":-1},{"s":"Forward","x":800,"y":-0.5},{"s":"Forward","x":820,"y":-1},{"s":"Forward","x":840,"y":-1},{"s":"Forward","x":860,"y":-0.5},{"s":"Forward","x":955,"y":-0.5},
{"s":"Inverse","x":-13,"y":0},{"s":"Inverse","x":30,"y":0.5},{"s":"Inverse","x":38,"y":-3},{"s":"Inverse","x":45,"y":-10},{"s":"Inverse","x":52,"y":-8},{"s":"Inverse","x":58,"y":-7},{"s":"Inverse","x":65,"y":-12.5},{"s":"Inverse","x":80,"y":-12.7},{"s":"Inverse","x":100,"y":-12.5},{"s":"Inverse","x":200,"y":-12.6},{"s":"Inverse","x":300,"y":-12.5},{"s":"Inverse","x":400,"y":-12.5},{"s":"Inverse","x":480,"y":-12.3},{"s":"Inverse","x":490,"y":-11.8},{"s":"Inverse","x":500,"y":-13.5},{"s":"Inverse","x":510,"y":-12.5},{"s":"Inverse","x":530,"y":-12.5},{"s":"Inverse","x":600,"y":-12.7},{"s":"Inverse","x":700,"y":-12.5},{"s":"Inverse","x":760,"y":-12.5},{"s":"Inverse","x":770,"y":-13},{"s":"Inverse","x":780,"y":-12},{"s":"Inverse","x":800,"y":-11.8},{"s":"Inverse","x":850,"y":-12},{"s":"Inverse","x":900,"y":-12.2},{"s":"Inverse","x":955,"y":-12.5},
{"s":"Sample","x":-13,"y":0.5},{"s":"Sample","x":28,"y":0.5},{"s":"Sample","x":33,"y":-5},{"s":"Sample","x":38,"y":-25},{"s":"Sample","x":43,"y":-33.5},{"s":"Sample","x":52,"y":-34.5},{"s":"Sample","x":60,"y":-37.5},{"s":"Sample","x":200,"y":-37.7},{"s":"Sample","x":400,"y":-37.7},{"s":"Sample","x":600,"y":-37.6},{"s":"Sample","x":800,"y":-37.7},{"s":"Sample","x":955,"y":-37.7}
],
"wrB":[
{"s":"Sample","x":28,"lo":-3,"hi":1},{"s":"Sample","x":40,"lo":-53,"hi":-5},{"s":"Sample","x":60,"lo":-53,"hi":-23.5},{"s":"Sample","x":955,"lo":-52,"hi":-23.5},
{"s":"Inverse","x":40,"lo":-5,"hi":0},{"s":"Inverse","x":50,"lo":-15,"hi":-3},{"s":"Inverse","x":60,"lo":-20,"hi":-5},{"s":"Inverse","x":955,"lo":-20,"hi":-5},
{"s":"CFM","x":40,"lo":-3,"hi":1},{"s":"CFM","x":50,"lo":-12,"hi":0},{"s":"CFM","x":150,"lo":-14,"hi":0},{"s":"CFM","x":230,"lo":-10,"hi":2},{"s":"CFM","x":240,"lo":-5,"hi":3},{"s":"CFM","x":760,"lo":-5,"hi":4},{"s":"CFM","x":770,"lo":-9,"hi":3},{"s":"CFM","x":790,"lo":-5,"hi":4},{"s":"CFM","x":955,"lo":-6,"hi":4},
{"s":"DiffSRL(Our)","x":300,"lo":-2,"hi":4},{"s":"DiffSRL(Our)","x":955,"lo":-1,"hi":5}
],
"to":[
{"s":"AutoEncoder","x":-13,"y":0},{"s":"AutoEncoder","x":30,"y":-0.5},{"s":"AutoEncoder","x":40,"y":-1},{"s":"AutoEncoder","x":50,"y":-7},{"s":"AutoEncoder","x":55,"y":-5},{"s":"AutoEncoder","x":60,"y":-2},{"s":"AutoEncoder","x":68,"y":-4},{"s":"AutoEncoder","x":75,"y":-10},{"s":"AutoEncoder","x":80,"y":-13},{"s":"AutoEncoder","x":85,"y":-9},{"s":"AutoEncoder","x":95,"y":-3},{"s":"AutoEncoder","x":105,"y":-1.5},{"s":"AutoEncoder","x":120,"y":-1},{"s":"AutoEncoder","x":140,"y":-1.5},{"s":"AutoEncoder","x":150,"y":-0.5},{"s":"AutoEncoder","x":170,"y":0},{"s":"AutoEncoder","x":200,"y":0},{"s":"AutoEncoder","x":250,"y":0.5},{"s":"AutoEncoder","x":450,"y":0.5},{"s":"AutoEncoder","x":500,"y":1},{"s":"AutoEncoder","x":955,"y":1},
{"s":"CFM","x":-13,"y":0},{"s":"CFM","x":35,"y":0},{"s":"CFM","x":45,"y":-3},{"s":"CFM","x":55,"y":-5},{"s":"CFM","x":65,"y":-3},{"s":"CFM","x":75,"y":-1},{"s":"CFM","x":90,"y":-0.5},{"s":"CFM","x":130,"y":-0.5},{"s":"CFM","x":150,"y":-1},{"s":"CFM","x":160,"y":-2},{"s":"CFM","x":170,"y":-0.5},{"s":"CFM","x":230,"y":-0.3},{"s":"CFM","x":250,"y":-1},{"s":"CFM","x":255,"y":-2.5},{"s":"CFM","x":265,"y":-1},{"s":"CFM","x":280,"y":-1.5},{"s":"CFM","x":300,"y":-1},{"s":"CFM","x":330,"y":-0.5},{"s":"CFM","x":400,"y":-0.5},{"s":"CFM","x":450,"y":0},{"s":"CFM","x":500,"y":0},{"s":"CFM","x":550,"y":0.5},{"s":"CFM","x":590,"y":0.5},{"s":"CFM","x":600,"y":-1},{"s":"CFM","x":610,"y":0},{"s":"CFM","x":650,"y":0.5},{"s":"CFM","x":680,"y":1},{"s":"CFM","x":700,"y":2},{"s":"CFM","x":710,"y":1},{"s":"CFM","x":720,"y":1.5},{"s":"CFM","x":740,"y":2.5},{"s":"CFM","x":750,"y":1},{"s":"CFM","x":760,"y":-0.5},{"s":"CFM","x":770,"y":0.5},{"s":"CFM","x":800,"y":0},{"s":"CFM","x":850,"y":0.2},{"s":"CFM","x":955,"y":0.3},
{"s":"DiffSRL(Our)","x":-13,"y":0},{"s":"DiffSRL(Our)","x":30,"y":0},{"s":"DiffSRL(Our)","x":35,"y":0.5},{"s":"DiffSRL(Our)","x":45,"y":0.5},{"s":"DiffSRL(Our)","x":55,"y":-1},{"s":"DiffSRL(Our)","x":65,"y":-1.5},{"s":"DiffSRL(Our)","x":75,"y":-0.5},{"s":"DiffSRL(Our)","x":85,"y":0},{"s":"DiffSRL(Our)","x":100,"y":-0.5},{"s":"DiffSRL(Our)","x":120,"y":0},{"s":"DiffSRL(Our)","x":130,"y":1},{"s":"DiffSRL(Our)","x":135,"y":4},{"s":"DiffSRL(Our)","x":145,"y":5},{"s":"DiffSRL(Our)","x":155,"y":4},{"s":"DiffSRL(Our)","x":165,"y":5.5},{"s":"DiffSRL(Our)","x":180,"y":5},{"s":"DiffSRL(Our)","x":200,"y":6},{"s":"DiffSRL(Our)","x":250,"y":6},{"s":"DiffSRL(Our)","x":300,"y":6},{"s":"DiffSRL(Our)","x":370,"y":6},{"s":"DiffSRL(Our)","x":390,"y":5},{"s":"DiffSRL(Our)","x":395,"y":3.5},{"s":"DiffSRL(Our)","x":405,"y":5},{"s":"DiffSRL(Our)","x":420,"y":5},{"s":"DiffSRL(Our)","x":440,"y":6},{"s":"DiffSRL(Our)","x":460,"y":6},{"s":"DiffSRL(Our)","x":480,"y":7},{"s":"DiffSRL(Our)","x":490,"y":5},{"s":"DiffSRL(Our)","x":500,"y":2.5},{"s":"DiffSRL(Our)","x":510,"y":4},{"s":"DiffSRL(Our)","x":520,"y":4},{"s":"DiffSRL(Our)","x":540,"y":5},{"s":"DiffSRL(Our)","x":555,"y":4.5},{"s":"DiffSRL(Our)","x":570,"y":5.5},{"s":"DiffSRL(Our)","x":590,"y":4.5},{"s":"DiffSRL(Our)","x":610,"y":5.5},{"s":"DiffSRL(Our)","x":620,"y":4},{"s":"DiffSRL(Our)","x":640,"y":5},{"s":"DiffSRL(Our)","x":660,"y":4.5},{"s":"DiffSRL(Our)","x":680,"y":5},{"s":"DiffSRL(Our)","x":700,"y":5.5},{"s":"DiffSRL(Our)","x":720,"y":5},{"s":"DiffSRL(Our)","x":740,"y":5.5},{"s":"DiffSRL(Our)","x":760,"y":5},{"s":"DiffSRL(Our)","x":780,"y":4.5},{"s":"DiffSRL(Our)","x":800,"y":6},{"s":"DiffSRL(Our)","x":820,"y":7},{"s":"DiffSRL(Our)","x":840,"y":8},{"s":"DiffSRL(Our)","x":860,"y":8.5},{"s":"DiffSRL(Our)","x":880,"y":8.5},{"s":"DiffSRL(Our)","x":900,"y":9},{"s":"DiffSRL(Our)","x":920,"y":10},{"s":"DiffSRL(Our)","x":935,"y":11},{"s":"DiffSRL(Our)","x":945,"y":10},{"s":"DiffSRL(Our)","x":955,"y":10},
{"s":"E2C","x":-13,"y":0},{"s":"E2C","x":35,"y":0},{"s":"E2C","x":45,"y":-1},{"s":"E2C","x":60,"y":-1.5},{"s":"E2C","x":100,"y":-1.5},{"s":"E2C","x":955,"y":-1.5},
{"s":"Forward","x":-13,"y":0},{"s":"Forward","x":35,"y":0},{"s":"Forward","x":45,"y":-1},{"s":"Forward","x":55,"y":-0.5},{"s":"Forward","x":65,"y":0},{"s":"Forward","x":80,"y":0.5},{"s":"Forward","x":100,"y":1},{"s":"Forward","x":130,"y":1},{"s":"Forward","x":150,"y":1.5},{"s":"Forward","x":180,"y":1},{"s":"Forward","x":200,"y":1.5},{"s":"Forward","x":215,"y":1.5},{"s":"Forward","x":220,"y":3},{"s":"Forward","x":240,"y":4},{"s":"Forward","x":280,"y":4},{"s":"Forward","x":300,"y":4.5},{"s":"Forward","x":360,"y":4.5},{"s":"Forward","x":390,"y":4},{"s":"Forward","x":400,"y":3.5},{"s":"Forward","x":420,"y":4},{"s":"Forward","x":450,"y":4.5},{"s":"Forward","x":540,"y":4.5},{"s":"Forward","x":570,"y":5},{"s":"Forward","x":600,"y":4.5},{"s":"Forward","x":660,"y":4.5},{"s":"Forward","x":690,"y":4},{"s":"Forward","x":720,"y":4.5},{"s":"Forward","x":890,"y":4.5},{"s":"Forward","x":910,"y":4},{"s":"Forward","x":930,"y":3.5},{"s":"Forward","x":955,"y":3.5},
{"s":"Inverse","x":-13,"y":0},{"s":"Inverse","x":35,"y":0},{"s":"Inverse","x":45,"y":-2},{"s":"Inverse","x":55,"y":-5},{"s":"Inverse","x":65,"y":-5},{"s":"Inverse","x":955,"y":-5},
{"s":"Sample","x":-13,"y":0},{"s":"Sample","x":35,"y":0},{"s":"Sample","x":40,"y":-5},{"s":"Sample","x":45,"y":-25},{"s":"Sample","x":50,"y":-34},{"s":"Sample","x":55,"y":-36.3},{"s":"Sample","x":100,"y":-36.3},{"s":"Sample","x":955,"y":-36.3}
],
"toB":[
{"s":"Sample","x":35,"lo":-2,"hi":1},{"s":"Sample","x":45,"lo":-53,"hi":-19.5},{"s":"Sample","x":955,"lo":-53,"hi":-19.5},
{"s":"Inverse","x":45,"lo":-3,"hi":0},{"s":"Inverse","x":55,"lo":-11,"hi":0},{"s":"Inverse","x":955,"lo":-11,"hi":0},
{"s":"DiffSRL(Our)","x":100,"lo":-2,"hi":8},{"s":"DiffSRL(Our)","x":200,"lo":0,"hi":12},{"s":"DiffSRL(Our)","x":390,"lo":0,"hi":12},{"s":"DiffSRL(Our)","x":400,"lo":-2,"hi":10},{"s":"DiffSRL(Our)","x":800,"lo":-2,"hi":10},{"s":"DiffSRL(Our)","x":850,"lo":0,"hi":16},{"s":"DiffSRL(Our)","x":955,"lo":2,"hi":16},
{"s":"Forward","x":200,"lo":-2,"hi":8},{"s":"Forward","x":955,"lo":-2,"hi":10}
],
"pi":[
{"s":"AutoEncoder","x":0,"y":0},{"s":"AutoEncoder","x":45,"y":0},{"s":"AutoEncoder","x":55,"y":-4},{"s":"AutoEncoder","x":65,"y":-2},{"s":"AutoEncoder","x":72,"y":-8},{"s":"AutoEncoder","x":80,"y":-5},{"s":"AutoEncoder","x":90,"y":-3},{"s":"AutoEncoder","x":100,"y":-5},{"s":"AutoEncoder","x":110,"y":-3},{"s":"AutoEncoder","x":120,"y":-2},{"s":"AutoEncoder","x":130,"y":-1},{"s":"AutoEncoder","x":140,"y":-1},{"s":"AutoEncoder","x":150,"y":0},{"s":"AutoEncoder","x":160,"y":0},{"s":"AutoEncoder","x":180,"y":0.5},{"s":"AutoEncoder","x":200,"y":0.8},{"s":"AutoEncoder","x":220,"y":1},{"s":"AutoEncoder","x":240,"y":1.2},{"s":"AutoEncoder","x":280,"y":1.3},{"s":"AutoEncoder","x":300,"y":1.2},{"s":"AutoEncoder","x":330,"y":1.3},{"s":"AutoEncoder","x":360,"y":1.5},{"s":"AutoEncoder","x":380,"y":1.8},{"s":"AutoEncoder","x":400,"y":1.8},{"s":"AutoEncoder","x":430,"y":2},{"s":"AutoEncoder","x":550,"y":2},{"s":"AutoEncoder","x":580,"y":2.2},{"s":"AutoEncoder","x":610,"y":2.2},{"s":"AutoEncoder","x":640,"y":2},{"s":"AutoEncoder","x":650,"y":2.5},{"s":"AutoEncoder","x":660,"y":0.5},{"s":"AutoEncoder","x":670,"y":0.2},{"s":"AutoEncoder","x":690,"y":0.8},{"s":"AutoEncoder","x":720,"y":1},{"s":"AutoEncoder","x":750,"y":1.5},{"s":"AutoEncoder","x":780,"y":2},{"s":"AutoEncoder","x":810,"y":2},{"s":"AutoEncoder","x":830,"y":2.2},{"s":"AutoEncoder","x":840,"y":1.8},{"s":"AutoEncoder","x":860,"y":2},{"s":"AutoEncoder","x":950,"y":2.1},
{"s":"CFM","x":0,"y":0},{"s":"CFM","x":45,"y":0},{"s":"CFM","x":55,"y":-10},{"s":"CFM","x":65,"y":-8},{"s":"CFM","x":75,"y":-3},{"s":"CFM","x":85,"y":-2},{"s":"CFM","x":95,"y":-1},{"s":"CFM","x":100,"y":-0.5},{"s":"CFM","x":110,"y":-0.5},{"s":"CFM","x":120,"y":-2},{"s":"CFM","x":130,"y":-5},{"s":"CFM","x":140,"y":-2},{"s":"CFM","x":150,"y":-0.5},{"s":"CFM","x":160,"y":0},{"s":"CFM","x":170,"y":-1},{"s":"CFM","x":180,"y":-2},{"s":"CFM","x":200,"y":-1.5},{"s":"CFM","x":220,"y":-2},{"s":"CFM","x":240,"y":-1.5},{"s":"CFM","x":260,"y":-2},{"s":"CFM","x":280,"y":-1},{"s":"CFM","x":300,"y":-1.5},{"s":"CFM","x":320,"y":-2.5},{"s":"CFM","x":330,"y":-2},{"s":"CFM","x":340,"y":-4},{"s":"CFM","x":345,"y":-6},{"s":"CFM","x":355,"y":-4},{"s":"CFM","x":365,"y":-3},{"s":"CFM","x":375,"y":-6},{"s":"CFM","x":385,"y":-5.5},{"s":"CFM","x":395,"y":-7},{"s":"CFM","x":405,"y":-9},{"s":"CFM","x":415,"y":-10},{"s":"CFM","x":425,"y":-10.5},{"s":"CFM","x":435,"y":-9},{"s":"CFM","x":440,"y":-5},{"s":"CFM","x":450,"y":-3},{"s":"CFM","x":460,"y":-4},{"s":"CFM","x":470,"y":-5.5},{"s":"CFM","x":475,"y":-2.5},{"s":"CFM","x":485,"y":-5},{"s":"CFM","x":495,"y":-2.5},{"s":"CFM","x":505,"y":-5.5},{"s":"CFM","x":515,"y":-6},{"s":"CFM","x":525,"y":-7.5},{"s":"CFM","x":535,"y":-9},{"s":"CFM","x":545,"y":-10},{"s":"CFM","x":555,"y":-8},{"s":"CFM","x":565,"y":-7},{"s":"CFM","x":575,"y":-5},{"s":"CFM","x":585,"y":-4},{"s":"CFM","x":595,"y":-4.5},{"s":"CFM","x":605,"y":-5},{"s":"CFM","x":615,"y":-5.5},{"s":"CFM","x":625,"y":-7},{"s":"CFM","x":640,"y":-2},{"s":"CFM","x":650,"y":-1},{"s":"CFM","x":660,"y":-4.5},{"s":"CFM","x":670,"y":-4},{"s":"CFM","x":680,"y":-2.5},{"s":"CFM","x":700,"y":-3},{"s":"CFM","x":720,"y":-2},{"s":"CFM","x":740,"y":-1.5},{"s":"CFM","x":760,"y":-1.5},{"s":"CFM","x":780,"y":-1},{"s":"CFM","x":860,"y":-1.5},{"s":"CFM","x":870,"y":-4.5},{"s":"CFM","x":880,"y":-1.5},{"s":"CFM","x":900,"y":-1},{"s":"CFM","x":910,"y":-0.5},{"s":"CFM","x":920,"y":-2},{"s":"CFM","x":930,"y":-1},{"s":"CFM","x":940,"y":-1.5},{"s":"CFM","x":950,"y":-1},
{"s":"DiffSRL(Our)","x":0,"y":0},{"s":"DiffSRL(Our)","x":20,"y":0.3},{"s":"DiffSRL(Our)","x":40,"y":0.5},{"s":"DiffSRL(Our)","x":50,"y":0},{"s":"DiffSRL(Our)","x":60,"y":-3},{"s":"DiffSRL(Our)","x":70,"y":-2},{"s":"DiffSRL(Our)","x":80,"y":-5},{"s":"DiffSRL(Our)","x":90,"y":-2},{"s":"DiffSRL(Our)","x":100,"y":0},{"s":"DiffSRL(Our)","x":110,"y":1},{"s":"DiffSRL(Our)","x":120,"y":0},{"s":"DiffSRL(Our)","x":130,"y":-0.5},{"s":"DiffSRL(Our)","x":140,"y":0.5},{"s":"DiffSRL(Our)","x":150,"y":0},{"s":"DiffSRL(Our)","x":160,"y":1},{"s":"DiffSRL(Our)","x":170,"y":2},{"s":"DiffSRL(Our)","x":180,"y":2},{"s":"DiffSRL(Our)","x":190,"y":1.5},{"s":"DiffSRL(Our)","x":200,"y":2},{"s":"DiffSRL(Our)","x":210,"y":1.5},{"s":"DiffSRL(Our)","x":220,"y":1},{"s":"DiffSRL(Our)","x":240,"y":1.5},{"s":"DiffSRL(Our)","x":260,"y":2},{"s":"DiffSRL(Our)","x":280,"y":2.2},{"s":"DiffSRL(Our)","x":300,"y":2},{"s":"DiffSRL(Our)","x":320,"y":2.3},{"s":"DiffSRL(Our)","x":340,"y":1.8},{"s":"DiffSRL(Our)","x":360,"y":2},{"s":"DiffSRL(Our)","x":380,"y":1.5},{"s":"DiffSRL(Our)","x":400,"y":1.8},{"s":"DiffSRL(Our)","x":410,"y":2.5},{"s":"DiffSRL(Our)","x":420,"y":3.5},{"s":"DiffSRL(Our)","x":440,"y":3},{"s":"DiffSRL(Our)","x":450,"y":4},{"s":"DiffSRL(Our)","x":470,"y":3.5},{"s":"DiffSRL(Our)","x":490,"y":4.5},{"s":"DiffSRL(Our)","x":510,"y":5},{"s":"DiffSRL(Our)","x":530,"y":5.3},{"s":"DiffSRL(Our)","x":550,"y":5},{"s":"DiffSRL(Our)","x":570,"y":4.5},{"s":"DiffSRL(Our)","x":580,"y":3},{"s":"DiffSRL(Our)","x":590,"y":4.5},{"s":"DiffSRL(Our)","x":610,"y":5},{"s":"DiffSRL(Our)","x":630,"y":5.3},{"s":"DiffSRL(Our)","x":650,"y":5},{"s":"DiffSRL(Our)","x":670,"y":5},{"s":"DiffSRL(Our)","x":690,"y":4.5},{"s":"DiffSRL(Our)","x":710,"y":5},{"s":"DiffSRL(Our)","x":730,"y":4.5},{"s":"DiffSRL(Our)","x":750,"y":4.5},{"s":"DiffSRL(Our)","x":770,"y":4},{"s":"DiffSRL(Our)","x":790,"y":4.5},{"s":"DiffSRL(Our)","x":810,"y":4.5},{"s":"DiffSRL(Our)","x":830,"y":4},{"s":"DiffSRL(Our)","x":850,"y":4.5},{"s":"DiffSRL(Our)","x":870,"y":4.5},{"s":"DiffSRL(Our)","x":890,"y":4},{"s":"DiffSRL(Our)","x":910,"y":4.5},{"s":"DiffSRL(Our)","x":920,"y":4},{"s":"DiffSRL(Our)","x":935,"y":3},{"s":"DiffSRL(Our)","x":950,"y":2.7},
{"s":"E2C","x":0,"y":0},{"s":"E2C","x":45,"y":0},{"s":"E2C","x":55,"y":-7},{"s":"E2C","x":70,"y":-8},{"s":"E2C","x":90,"y":-7.5},{"s":"E2C","x":110,"y":-7},{"s":"E2C","x":130,"y":-7.3},{"s":"E2C","x":150,"y":-7},{"s":"E2C","x":170,"y":-7.5},{"s":"E2C","x":190,"y":-7},{"s":"E2C","x":210,"y":-7.5},{"s":"E2C","x":230,"y":-7},{"s":"E2C","x":250,"y":-6.5},{"s":"E2C","x":270,"y":-7},{"s":"E2C","x":290,"y":-7.5},{"s":"E2C","x":310,"y":-7},{"s":"E2C","x":330,"y":-7},{"s":"E2C","x":340,"y":-6.5},{"s":"E2C","x":350,"y":-7},{"s":"E2C","x":360,"y":-9},{"s":"E2C","x":370,"y":-10},{"s":"E2C","x":400,"y":-10.2},{"s":"E2C","x":430,"y":-10},{"s":"E2C","x":460,"y":-9.8},{"s":"E2C","x":500,"y":-10},{"s":"E2C","x":540,"y":-9.5},{"s":"E2C","x":580,"y":-9.3},{"s":"E2C","x":620,"y":-9},{"s":"E2C","x":650,"y":-9.2},{"s":"E2C","x":680,"y":-8.8},{"s":"E2C","x":700,"y":-9},{"s":"E2C","x":720,"y":-9.2},{"s":"E2C","x":740,"y":-8.5},{"s":"E2C","x":760,"y":-8.7},{"s":"E2C","x":780,"y":-8.3},{"s":"E2C","x":800,"y":-8.7},{"s":"E2C","x":820,"y":-8},{"s":"E2C","x":840,"y":-8.3},{"s":"E2C","x":860,"y":-8.5},{"s":"E2C","x":880,"y":-8.2},{"s":"E2C","x":900,"y":-8},{"s":"E2C","x":920,"y":-8.3},{"s":"E2C","x":940,"y":-7.5},{"s":"E2C","x":950,"y":-7},
{"s":"Forward","x":0,"y":0},{"s":"Forward","x":10,"y":0},{"s":"Forward","x":20,"y":-1.3},{"s":"Forward","x":30,"y":0},{"s":"Forward","x":45,"y":0},{"s":"Forward","x":55,"y":-2},{"s":"Forward","x":60,"y":-6},{"s":"Forward","x":70,"y":-4},{"s":"Forward","x":80,"y":-8},{"s":"Forward","x":90,"y":-2},{"s":"Forward","x":95,"y":-10},{"s":"Forward","x":100,"y":-15},{"s":"Forward","x":105,"y":-16.3},{"s":"Forward","x":110,"y":-12},{"s":"Forward","x":115,"y":-5},{"s":"Forward","x":120,"y":-1},{"s":"Forward","x":125,"y":0},{"s":"Forward","x":130,"y":-2},{"s":"Forward","x":138,"y":-9},{"s":"Forward","x":145,"y":-5},{"s":"Forward","x":150,"y":-2},{"s":"Forward","x":160,"y":0},{"s":"Forward","x":165,"y":-4},{"s":"Forward","x":170,"y":-6.5},{"s":"Forward","x":175,"y":-3},{"s":"Forward","x":180,"y":-1.5},{"s":"Forward","x":200,"y":-1.5},{"s":"Forward","x":210,"y":-2},{"s":"Forward","x":220,"y":-3},{"s":"Forward","x":230,"y":-2},{"s":"Forward","x":240,"y":-1.5},{"s":"Forward","x":250,"y":-1},{"s":"Forward","x":260,"y":-0.5},{"s":"Forward","x":265,"y":0.5},{"s":"Forward","x":275,"y":0},{"s":"Forward","x":285,"y":-1},{"s":"Forward","x":300,"y":0},{"s":"Forward","x":320,"y":-0.5},{"s":"Forward","x":340,"y":-0.5},{"s":"Forward","x":380,"y":0},{"s":"Forward","x":420,"y":0},{"s":"Forward","x":460,"y":0.2},{"s":"Forward","x":500,"y":0.3},{"s":"Forward","x":550,"y":0.5},{"s":"Forward","x":600,"y":0.5},{"s":"Forward","x":650,"y":0.8},{"s":"Forward","x":700,"y":1},{"s":"Forward","x":800,"y":1},{"s":"Forward","x":850,"y":0.8},{"s":"Forward","x":950,"y":0.7},
{"s":"Inverse","x":0,"y":-2.5},{"s":"Inverse","x":10,"y":-1},{"s":"Inverse","x":20,"y":-0.5},{"s":"Inverse","x":30,"y":0.3},{"s":"Inverse","x":45,"y":0},{"s":"Inverse","x":55,"y":-8},{"s":"Inverse","x":70,"y":-8},{"s":"Inverse","x":90,"y":-7.8},{"s":"Inverse","x":100,"y":-10},{"s":"Inverse","x":110,"y":-10.5},{"s":"Inverse","x":130,"y":-10},{"s":"Inverse","x":150,"y":-10.5},{"s":"Inverse","x":170,"y":-10},{"s":"Inverse","x":190,"y":-9.5},{"s":"Inverse","x":210,"y":-10.5},{"s":"Inverse","x":230,"y":-10},{"s":"Inverse","x":250,"y":-10.5},{"s":"Inverse","x":270,"y":-10},{"s":"Inverse","x":290,"y":-10.2},{"s":"Inverse","x":310,"y":-10.5},{"s":"Inverse","x":330,"y":-10},{"s":"Inverse","x":350,"y":-10.3},{"s":"Inverse","x":370,"y":-10.5},{"s":"Inverse","x":390,"y":-10.2},{"s":"Inverse","x":410,"y":-11},{"s":"Inverse","x":430,"y":-10.5},{"s":"Inverse","x":450,"y":-10},{"s":"Inverse","x":470,"y":-9.8},{"s":"Inverse","x":490,"y":-10},{"s":"Inverse","x":510,"y":-10.2},{"s":"Inverse","x":530,"y":-9.8},{"s":"Inverse","x":550,"y":-10},{"s":"Inverse","x":570,"y":-9.5},{"s":"Inverse","x":590,"y":-10},{"s":"Inverse","x":610,"y":-9.3},{"s":"Inverse","x":630,"y":-9.5},{"s":"Inverse","x":650,"y":-9.2},{"s":"Inverse","x":670,"y":-9.5},{"s":"Inverse","x":690,"y":-9.3},{"s":"Inverse","x":710,"y":-9.8},{"s":"Inverse","x":730,"y":-9.5},{"s":"Inverse","x":750,"y":-9.8},{"s":"Inverse","x":770,"y":-9.3},{"s":"Inverse","x":790,"y":-9.5},{"s":"Inverse","x":810,"y":-9.8},{"s":"Inverse","x":830,"y":-9.5},{"s":"Inverse","x":850,"y":-10},{"s":"Inverse","x":870,"y":-9.7},{"s":"Inverse","x":890,"y":-9.5},{"s":"Inverse","x":910,"y":-10},{"s":"Inverse","x":930,"y":-9.5},{"s":"Inverse","x":950,"y":-9.2},
{"s":"Sample","x":0,"y":0},{"s":"Sample","x":45,"y":0},{"s":"Sample","x":50,"y":-5},{"s":"Sample","x":55,"y":-14},{"s":"Sample","x":60,"y":-15.3},{"s":"Sample","x":90,"y":-15.5},{"s":"Sample","x":100,"y":-14.2},{"s":"Sample","x":110,"y":-14.5},{"s":"Sample","x":115,"y":-16.3},{"s":"Sample","x":125,"y":-13.5},{"s":"Sample","x":130,"y":-12.7},{"s":"Sample","x":140,"y":-13},{"s":"Sample","x":150,"y":-14.5},{"s":"Sample","x":160,"y":-15},{"s":"Sample","x":170,"y":-14.3},{"s":"Sample","x":180,"y":-15},{"s":"Sample","x":200,"y":-15},{"s":"Sample","x":350,"y":-15},{"s":"Sample","x":400,"y":-14.8},{"s":"Sample","x":450,"y":-14.5},{"s":"Sample","x":480,"y":-14.3},{"s":"Sample","x":500,"y":-14},{"s":"Sample","x":550,"y":-14},{"s":"Sample","x":600,"y":-13.8},{"s":"Sample","x":640,"y":-13.5},{"s":"Sample","x":650,"y":-13.3},{"s":"Sample","x":820,"y":-13.3},{"s":"Sample","x":830,"y":-13},{"s":"Sample","x":950,"y":-13}
],
"piB":[
{"s":"Inverse","x":45,"lo":-2,"hi":1},{"s":"Inverse","x":55,"lo":-18,"hi":0},{"s":"Inverse","x":100,"lo":-20,"hi":-2},{"s":"Inverse","x":950,"lo":-20,"hi":-1},
{"s":"E2C","x":45,"lo":-2,"hi":1},{"s":"E2C","x":55,"lo":-20,"hi":-3},{"s":"E2C","x":200,"lo":-22,"hi":0},{"s":"E2C","x":350,"lo":-22,"hi":-3},{"s":"E2C","x":950,"lo":-20,"hi":-7},
{"s":"Sample","x":45,"lo":-2,"hi":1},{"s":"Sample","x":55,"lo":-23,"hi":-10},{"s":"Sample","x":200,"lo":-22,"hi":-8},{"s":"Sample","x":950,"lo":-20,"hi":-7},
{"s":"CFM","x":45,"lo":-2,"hi":1},{"s":"CFM","x":55,"lo":-15,"hi":3},{"s":"CFM","x":200,"lo":-12,"hi":3},{"s":"CFM","x":400,"lo":-18,"hi":1},{"s":"CFM","x":600,"lo":-16,"hi":3},{"s":"CFM","x":950,"lo":-10,"hi":3},
{"s":"DiffSRL(Our)","x":100,"lo":-3,"hi":3},{"s":"DiffSRL(Our)","x":400,"lo":0,"hi":5},{"s":"DiffSRL(Our)","x":600,"lo":1,"hi":7},{"s":"DiffSRL(Our)","x":950,"lo":0,"hi":6},
{"s":"AutoEncoder","x":100,"lo":-5,"hi":3},{"s":"AutoEncoder","x":400,"lo":-2,"hi":4},{"s":"AutoEncoder","x":700,"lo":-1,"hi":5},{"s":"AutoEncoder","x":950,"lo":-1,"hi":5}
]
},
"bounds":"flush",
"columns":3,
"spacing":{"row":41,"column":40},
"concat":[
 {"width":319,"height":238,"title":"Chopsticks","layer":[
  {"data":{"name":"chB"},"mark":{"type":"area","opacity":0.06,"clip":true},"encoding":{
   "x":{"field":"x","type":"quantitative","scale":{"domain":[-13,1003],"nice":false,"zero":false},"axis":{"values":[0,200,400,600,800,1000],"format":"d","title":null}},
   "y":{"field":"lo","type":"quantitative","scale":{"domain":[-72.6,103.7],"nice":false,"zero":false},"axis":{"values":[-60,-40,-20,0,20,40,60,80,100],"labelOverlap":false,"labelAngle":-90,"title":"rewards"}},
   "y2":{"field":"hi"},
   "fill":{"field":"s","type":"nominal","scale":{"domain":["Sample","Inverse","Forward","E2C","DiffSRL(Our)","CFM","AutoEncoder"],"range":["#000000","#800080","#ffa500","#808080","#008000","#0000ff","#ff0000"]},"legend":null}}},
  {"data":{"name":"ch"},"mark":{"type":"line","strokeWidth":1.6,"clip":true},"encoding":{
   "x":{"field":"x","type":"quantitative","axis":{"values":[0,200,400,600,800,1000],"format":"d","title":null}},
   "y":{"field":"y","type":"quantitative","axis":{"values":[-60,-40,-20,0,20,40,60,80,100],"labelOverlap":false,"labelAngle":-90,"title":"rewards"}},
   "color":{"field":"s","type":"nominal","scale":{"domain":["AutoEncoder","CFM","DiffSRL(Our)","E2C","Forward","Inverse","Sample"],"range":["#ff0000","#0000ff","#008000","#808080","#ffa500","#800080","#000000"]},"legend":{"orient":"none","legendX":51,"legendY":558,"direction":"horizontal","columns":7}}}}
 ]},
 {"width":319,"height":238,"title":"Rope","layer":[
  {"data":{"name":"roB"},"mark":{"type":"area","opacity":0.06,"clip":true},"encoding":{
   "x":{"field":"x","type":"quantitative","scale":{"domain":[-13,1003],"nice":false,"zero":false},"axis":{"values":[0,200,400,600,800,1000],"format":"d","title":null}},
   "y":{"field":"lo","type":"quantitative","scale":{"domain":[-16,93],"nice":false,"zero":false},"axis":{"values":[0,20,40,60,80],"labelOverlap":false,"labelAngle":-90,"title":null}},
   "y2":{"field":"hi"},
   "fill":{"field":"s","type":"nominal","scale":{"domain":["Sample","Inverse","Forward","E2C","DiffSRL(Our)","CFM","AutoEncoder"],"range":["#000000","#800080","#ffa500","#808080","#008000","#0000ff","#ff0000"]},"legend":null}}},
  {"data":{"name":"ro"},"mark":{"type":"line","strokeWidth":1.6,"clip":true},"encoding":{
   "x":{"field":"x","type":"quantitative","axis":{"values":[0,200,400,600,800,1000],"format":"d","title":null}},
   "y":{"field":"y","type":"quantitative","axis":{"values":[0,20,40,60,80],"labelOverlap":false,"labelAngle":-90,"title":null}},
   "color":{"field":"s","type":"nominal","scale":{"domain":["AutoEncoder","CFM","DiffSRL(Our)","E2C","Forward","Inverse","Sample"],"range":["#ff0000","#0000ff","#008000","#808080","#ffa500","#800080","#000000"]}}}}
 ]},
 {"width":319,"height":238,"title":"Rolling pin","layer":[
  {"data":{"name":"rpB"},"mark":{"type":"area","opacity":0.06,"clip":true},"encoding":{
   "x":{"field":"x","type":"quantitative","scale":{"domain":[-13,1003],"nice":false,"zero":false},"axis":{"values":[0,200,400,600,800,1000],"format":"d","title":null}},
   "y":{"field":"lo","type":"quantitative","scale":{"domain":[-4.6,50.2],"nice":false,"zero":false},"axis":{"values":[0,10,20,30,40,50],"labelOverlap":false,"labelAngle":-90,"title":null}},
   "y2":{"field":"hi"},
   "fill":{"field":"s","type":"nominal","scale":{"domain":["Sample","Inverse","Forward","E2C","DiffSRL(Our)","CFM","AutoEncoder"],"range":["#000000","#800080","#ffa500","#808080","#008000","#0000ff","#ff0000"]},"legend":null}}},
  {"data":{"name":"rp"},"mark":{"type":"line","strokeWidth":1.6,"clip":true},"encoding":{
   "x":{"field":"x","type":"quantitative","axis":{"values":[0,200,400,600,800,1000],"format":"d","title":null}},
   "y":{"field":"y","type":"quantitative","axis":{"values":[0,10,20,30,40,50],"labelOverlap":false,"labelAngle":-90,"title":null}},
   "color":{"field":"s","type":"nominal","scale":{"domain":["AutoEncoder","CFM","DiffSRL(Our)","E2C","Forward","Inverse","Sample"],"range":["#ff0000","#0000ff","#008000","#808080","#ffa500","#800080","#000000"]}}}}
 ]},
 {"width":319,"height":238,"title":"Writer","layer":[
  {"data":{"name":"wrB"},"mark":{"type":"area","opacity":0.06,"clip":true},"encoding":{
   "x":{"field":"x","type":"quantitative","scale":{"domain":[-13,1003],"nice":false,"zero":false},"axis":{"values":[0,200,400,600,800,1000],"format":"d","title":"steps"}},
   "y":{"field":"lo","type":"quantitative","scale":{"domain":[-56.2,8.2],"nice":false,"zero":false},"axis":{"values":[-50,-40,-30,-20,-10,0],"labelOverlap":false,"labelAngle":-90,"title":"rewards"}},
   "y2":{"field":"hi"},
   "fill":{"field":"s","type":"nominal","scale":{"domain":["Sample","Inverse","Forward","E2C","DiffSRL(Our)","CFM","AutoEncoder"],"range":["#000000","#800080","#ffa500","#808080","#008000","#0000ff","#ff0000"]},"legend":null}}},
  {"data":{"name":"wr"},"mark":{"type":"line","strokeWidth":1.6,"clip":true},"encoding":{
   "x":{"field":"x","type":"quantitative","axis":{"values":[0,200,400,600,800,1000],"format":"d","title":"steps"}},
   "y":{"field":"y","type":"quantitative","axis":{"values":[-50,-40,-30,-20,-10,0],"labelOverlap":false,"labelAngle":-90,"title":"rewards"}},
   "color":{"field":"s","type":"nominal","scale":{"domain":["AutoEncoder","CFM","DiffSRL(Our)","E2C","Forward","Inverse","Sample"],"range":["#ff0000","#0000ff","#008000","#808080","#ffa500","#800080","#000000"]}}}}
 ]},
 {"width":319,"height":238,"title":"Torus","layer":[
  {"data":{"name":"toB"},"mark":{"type":"area","opacity":0.06,"clip":true},"encoding":{
   "x":{"field":"x","type":"quantitative","scale":{"domain":[-13,1003],"nice":false,"zero":false},"axis":{"values":[0,200,400,600,800,1000],"format":"d","title":"steps"}},
   "y":{"field":"lo","type":"quantitative","scale":{"domain":[-56.8,19.5],"nice":false,"zero":false},"axis":{"values":[-50,-40,-30,-20,-10,0,10],"labelOverlap":false,"labelAngle":-90,"title":null}},
   "y2":{"field":"hi"},
   "fill":{"field":"s","type":"nominal","scale":{"domain":["Sample","Inverse","Forward","E2C","DiffSRL(Our)","CFM","AutoEncoder"],"range":["#000000","#800080","#ffa500","#808080","#008000","#0000ff","#ff0000"]},"legend":null}}},
  {"data":{"name":"to"},"mark":{"type":"line","strokeWidth":1.6,"clip":true},"encoding":{
   "x":{"field":"x","type":"quantitative","axis":{"values":[0,200,400,600,800,1000],"format":"d","title":"steps"}},
   "y":{"field":"y","type":"quantitative","axis":{"values":[-50,-40,-30,-20,-10,0,10],"labelOverlap":false,"labelAngle":-90,"title":null}},
   "color":{"field":"s","type":"nominal","scale":{"domain":["AutoEncoder","CFM","DiffSRL(Our)","E2C","Forward","Inverse","Sample"],"range":["#ff0000","#0000ff","#008000","#808080","#ffa500","#800080","#000000"]}}}}
 ]},
 {"width":319,"height":238,"title":"Pinch","layer":[
  {"data":{"name":"piB"},"mark":{"type":"area","opacity":0.06,"clip":true},"encoding":{
   "x":{"field":"x","type":"quantitative","scale":{"domain":[-13,1003],"nice":false,"zero":false},"axis":{"values":[0,200,400,600,800,1000],"format":"d","title":"steps"}},
   "y":{"field":"lo","type":"quantitative","scale":{"domain":[-25.6,9.1],"nice":false,"zero":false},"axis":{"values":[-25,-20,-15,-10,-5,0,5],"labelOverlap":false,"labelAngle":-90,"title":null}},
   "y2":{"field":"hi"},
   "fill":{"field":"s","type":"nominal","scale":{"domain":["Sample","Inverse","Forward","E2C","DiffSRL(Our)","CFM","AutoEncoder"],"range":["#000000","#800080","#ffa500","#808080","#008000","#0000ff","#ff0000"]},"legend":null}}},
  {"data":{"name":"pi"},"mark":{"type":"line","strokeWidth":1.6,"clip":true},"encoding":{
   "x":{"field":"x","type":"quantitative","axis":{"values":[0,200,400,600,800,1000],"format":"d","title":"steps"}},
   "y":{"field":"y","type":"quantitative","axis":{"values":[-25,-20,-15,-10,-5,0,5],"labelOverlap":false,"labelAngle":-90,"title":null}},
   "color":{"field":"s","type":"nominal","scale":{"domain":["AutoEncoder","CFM","DiffSRL(Our)","E2C","Forward","Inverse","Sample"],"range":["#ff0000","#0000ff","#008000","#808080","#ffa500","#800080","#000000"]}}}}
 ]}
],
"resolve":{"scale":{"x":"independent","y":"independent"}}
}
